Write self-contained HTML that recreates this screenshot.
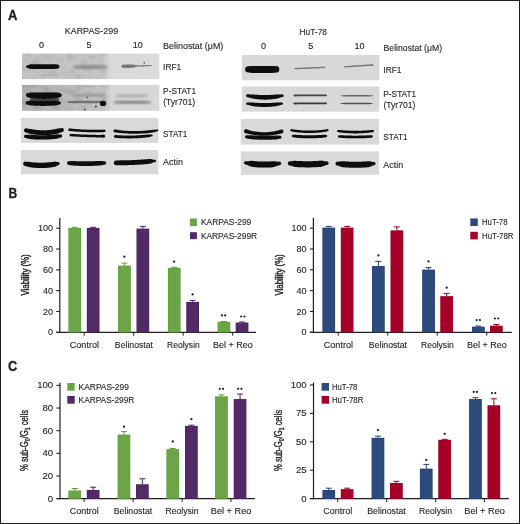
<!DOCTYPE html><html><head><meta charset="utf-8"><style>html,body{margin:0;padding:0;width:520px;height:524px;overflow:hidden;background:#fff}svg{display:block;font-family:"Liberation Sans", sans-serif;will-change:transform}</style></head><body>
<svg width="520" height="524" viewBox="0 0 520 524">
<defs><filter id="b0" x="-100%" y="-100%" width="300%" height="300%"><feGaussianBlur stdDeviation="0.35"/></filter><filter id="nz" x="0" y="0" width="100%" height="100%"><feTurbulence type="fractalNoise" baseFrequency="0.12 0.18" numOctaves="2" seed="7"/><feColorMatrix type="matrix" values="0 0 0 0 0  0 0 0 0 0  0 0 0 0 0  -2.2 0 0 0 1.25"/><feComposite in2="SourceGraphic" operator="in"/></filter><filter id="nz2" x="0" y="0" width="100%" height="100%"><feTurbulence type="fractalNoise" baseFrequency="0.12 0.18" numOctaves="2" seed="11"/><feColorMatrix type="matrix" values="0 0 0 0 0  0 0 0 0 0  0 0 0 0 0  -2.2 0 0 0 1.25"/><feComposite in2="SourceGraphic" operator="in"/></filter><filter id="b1" x="-20%" y="-50%" width="140%" height="200%"><feGaussianBlur stdDeviation="0.55"/></filter><filter id="b2" x="-20%" y="-50%" width="140%" height="200%"><feGaussianBlur stdDeviation="0.9"/></filter><filter id="b3" x="-50%" y="-50%" width="200%" height="200%"><feGaussianBlur stdDeviation="2.5"/></filter><linearGradient id="gL1" x1="0" x2="1" y1="0" y2="0"><stop offset="0" stop-color="#c2c2c2"/><stop offset="0.58" stop-color="#c6c6c6"/><stop offset="0.62" stop-color="#d2d2d2"/><stop offset="0.65" stop-color="#d9d9d9"/><stop offset="1" stop-color="#dbdbdb"/></linearGradient><linearGradient id="gL2" x1="0" x2="1" y1="0" y2="0"><stop offset="0" stop-color="#b0b0b0"/><stop offset="0.3" stop-color="#b9b9b9"/><stop offset="0.6" stop-color="#c3c3c3"/><stop offset="0.645" stop-color="#d5d5d5"/><stop offset="1" stop-color="#d8d8d8"/></linearGradient></defs>
<rect x="0" y="0" width="520" height="524" fill="#fff"/>
<text x="8.10" y="19.60" font-size="14" text-anchor="start" font-weight="bold" fill="#231f20" stroke="#231f20" stroke-width="0.35" textLength="9.40" lengthAdjust="spacingAndGlyphs">A</text>
<text x="64.80" y="34.20" font-size="9" text-anchor="start" font-weight="normal" fill="#231f20" stroke="#231f20" stroke-width="0.12" textLength="53.30" lengthAdjust="spacingAndGlyphs">KARPAS-299</text>
<text x="299.60" y="35.20" font-size="9" text-anchor="start" font-weight="normal" fill="#231f20" stroke="#231f20" stroke-width="0.12" textLength="27.30" lengthAdjust="spacingAndGlyphs">HuT-78</text>
<text x="41.50" y="47.90" font-size="9" text-anchor="middle" font-weight="normal" fill="#231f20" stroke="#231f20" stroke-width="0.12">0</text>
<text x="88.90" y="47.90" font-size="9" text-anchor="middle" font-weight="normal" fill="#231f20" stroke="#231f20" stroke-width="0.12">5</text>
<text x="137.70" y="47.90" font-size="9" text-anchor="middle" font-weight="normal" fill="#231f20" stroke="#231f20" stroke-width="0.12">10</text>
<text x="263.40" y="48.90" font-size="9" text-anchor="middle" font-weight="normal" fill="#231f20" stroke="#231f20" stroke-width="0.12">0</text>
<text x="310.70" y="48.90" font-size="9" text-anchor="middle" font-weight="normal" fill="#231f20" stroke="#231f20" stroke-width="0.12">5</text>
<text x="359.40" y="48.90" font-size="9" text-anchor="middle" font-weight="normal" fill="#231f20" stroke="#231f20" stroke-width="0.12">10</text>
<text x="163.10" y="49.40" font-size="9" text-anchor="start" font-weight="normal" fill="#231f20" stroke="#231f20" stroke-width="0.12" textLength="60.20" lengthAdjust="spacingAndGlyphs">Belinostat (μM)</text>
<text x="383.50" y="51.30" font-size="9" text-anchor="start" font-weight="normal" fill="#231f20" stroke="#231f20" stroke-width="0.12" textLength="58.60" lengthAdjust="spacingAndGlyphs">Belinostat (μM)</text>
<text x="163.10" y="70.00" font-size="9" text-anchor="start" font-weight="normal" fill="#231f20" stroke="#231f20" stroke-width="0.12" textLength="18.20" lengthAdjust="spacingAndGlyphs">IRF1</text>
<text x="163.10" y="94.20" font-size="9" text-anchor="start" font-weight="normal" fill="#231f20" stroke="#231f20" stroke-width="0.12" textLength="32.90" lengthAdjust="spacingAndGlyphs">P-STAT1</text>
<text x="163.20" y="105.10" font-size="9" text-anchor="start" font-weight="normal" fill="#231f20" stroke="#231f20" stroke-width="0.12" textLength="31.90" lengthAdjust="spacingAndGlyphs">(Tyr701)</text>
<text x="163.10" y="136.90" font-size="9" text-anchor="start" font-weight="normal" fill="#231f20" stroke="#231f20" stroke-width="0.12" textLength="24.20" lengthAdjust="spacingAndGlyphs">STAT1</text>
<text x="163.10" y="165.40" font-size="9" text-anchor="start" font-weight="normal" fill="#231f20" stroke="#231f20" stroke-width="0.12" textLength="19.80" lengthAdjust="spacingAndGlyphs">Actin</text>
<text x="383.30" y="72.60" font-size="9" text-anchor="start" font-weight="normal" fill="#231f20" stroke="#231f20" stroke-width="0.12" textLength="18.20" lengthAdjust="spacingAndGlyphs">IRF1</text>
<text x="383.30" y="96.80" font-size="9" text-anchor="start" font-weight="normal" fill="#231f20" stroke="#231f20" stroke-width="0.12" textLength="32.90" lengthAdjust="spacingAndGlyphs">P-STAT1</text>
<text x="383.40" y="107.70" font-size="9" text-anchor="start" font-weight="normal" fill="#231f20" stroke="#231f20" stroke-width="0.12" textLength="31.90" lengthAdjust="spacingAndGlyphs">(Tyr701)</text>
<text x="383.30" y="139.50" font-size="9" text-anchor="start" font-weight="normal" fill="#231f20" stroke="#231f20" stroke-width="0.12" textLength="24.20" lengthAdjust="spacingAndGlyphs">STAT1</text>
<text x="383.30" y="168.00" font-size="9" text-anchor="start" font-weight="normal" fill="#231f20" stroke="#231f20" stroke-width="0.12" textLength="19.80" lengthAdjust="spacingAndGlyphs">Actin</text>
<rect x="22.00" y="53.60" width="137.40" height="25.50" fill="url(#gL1)"/>
<rect x="22.00" y="84.90" width="137.40" height="25.90" fill="url(#gL2)"/>
<g opacity="0.10"><rect x="22" y="53.6" width="86" height="25.5" fill="#fff" filter="url(#nz)"/><rect x="22" y="84.9" width="88" height="25.9" fill="#fff" filter="url(#nz2)"/></g>
<rect x="21.00" y="117.80" width="137.40" height="25.10" fill="#d9d9d9"/>
<rect x="20.80" y="150.00" width="137.60" height="24.30" fill="#d9d9d9"/>
<path d="M27.30,65.30 L28.14,65.15 L28.97,64.81 L29.81,64.45 L30.64,64.22 L31.48,64.20 L32.32,64.20 L33.15,64.20 L33.99,64.20 L34.83,64.20 L35.66,64.20 L36.50,64.20 L37.33,64.20 L38.17,64.20 L39.01,64.20 L39.84,64.20 L40.68,64.20 L41.51,64.20 L42.35,64.20 L43.19,64.20 L44.02,64.20 L44.86,64.20 L45.69,64.20 L46.53,64.20 L47.37,64.20 L48.20,64.20 L49.04,64.20 L49.88,64.20 L50.71,64.20 L51.55,64.20 L52.38,64.20 L53.22,64.20 L54.06,64.20 L54.89,64.27 L55.73,64.37 L56.56,64.46 L57.40,64.50 L58.17,64.66 L58.81,65.12 L59.25,65.80 L59.40,66.60 L59.25,67.40 L58.81,68.08 L58.17,68.54 L57.40,68.70 L56.56,68.74 L55.73,68.83 L54.89,68.93 L54.06,69.00 L53.22,69.00 L52.38,69.00 L51.55,69.00 L50.71,69.00 L49.88,69.00 L49.04,69.00 L48.20,69.00 L47.37,69.00 L46.53,69.00 L45.69,69.00 L44.86,69.00 L44.02,69.00 L43.19,69.00 L42.35,69.00 L41.51,69.00 L40.68,69.00 L39.84,69.00 L39.01,69.00 L38.17,69.00 L37.33,69.00 L36.50,69.00 L35.66,69.00 L34.83,69.00 L33.99,69.00 L33.15,69.00 L32.32,69.00 L31.48,69.00 L30.64,68.98 L29.81,68.75 L28.97,68.39 L28.14,68.05 L27.30,67.90 L26.80,67.80 L26.38,67.52 L26.10,67.10 L26.00,66.60 L26.10,66.10 L26.38,65.68 L26.80,65.40Z" fill="#0a0a0a" filter="url(#b1)" opacity="1.0"/>
<path d="M74.20,65.80 L75.08,65.78 L75.97,65.71 L76.85,65.62 L77.73,65.51 L78.62,65.39 L79.50,65.28 L80.38,65.19 L81.27,65.12 L82.15,65.10 L83.03,65.10 L83.92,65.10 L84.80,65.10 L85.68,65.10 L86.57,65.10 L87.45,65.10 L88.33,65.10 L89.22,65.10 L90.10,65.10 L90.98,65.10 L91.87,65.10 L92.75,65.10 L93.63,65.10 L94.52,65.10 L95.40,65.10 L96.28,65.10 L97.17,65.10 L98.05,65.10 L98.93,65.12 L99.82,65.19 L100.70,65.28 L101.58,65.39 L102.47,65.51 L103.35,65.62 L104.23,65.71 L105.12,65.78 L106.00,65.80 L106.46,65.89 L106.85,66.15 L107.11,66.54 L107.20,67.00 L107.11,67.46 L106.85,67.85 L106.46,68.11 L106.00,68.20 L105.12,68.22 L104.23,68.29 L103.35,68.38 L102.47,68.49 L101.58,68.61 L100.70,68.72 L99.82,68.81 L98.93,68.88 L98.05,68.90 L97.17,68.90 L96.28,68.90 L95.40,68.90 L94.52,68.90 L93.63,68.90 L92.75,68.90 L91.87,68.90 L90.98,68.90 L90.10,68.90 L89.22,68.90 L88.33,68.90 L87.45,68.90 L86.57,68.90 L85.68,68.90 L84.80,68.90 L83.92,68.90 L83.03,68.90 L82.15,68.90 L81.27,68.88 L80.38,68.81 L79.50,68.72 L78.62,68.61 L77.73,68.49 L76.85,68.38 L75.97,68.29 L75.08,68.22 L74.20,68.20 L73.74,68.11 L73.35,67.85 L73.09,67.46 L73.00,67.00 L73.09,66.54 L73.35,66.15 L73.74,65.89Z" fill="#8e8e8e" filter="url(#b2)" opacity="1.0"/>
<path d="M122.90,64.80 L123.26,64.79 L123.63,64.78 L123.99,64.75 L124.36,64.72 L124.72,64.69 L125.08,64.66 L125.45,64.63 L125.81,64.60 L126.18,64.58 L126.54,64.56 L126.90,64.55 L127.27,64.54 L127.63,64.54 L127.99,64.53 L128.36,64.52 L128.72,64.52 L129.09,64.51 L129.45,64.50 L129.81,64.49 L130.18,64.48 L130.54,64.47 L130.91,64.46 L131.27,64.45 L131.63,64.44 L132.00,64.43 L132.36,64.43 L132.72,64.46 L133.09,64.52 L133.45,64.59 L133.82,64.67 L134.18,64.75 L134.54,64.84 L134.91,64.91 L135.27,64.96 L135.64,65.00 L136.00,65.00 L136.38,65.08 L136.71,65.29 L136.92,65.62 L137.00,66.00 L136.92,66.38 L136.71,66.71 L136.38,66.92 L136.00,67.00 L135.64,67.03 L135.27,67.09 L134.91,67.17 L134.54,67.27 L134.18,67.38 L133.82,67.49 L133.45,67.59 L133.09,67.68 L132.72,67.76 L132.36,67.81 L132.00,67.83 L131.63,67.84 L131.27,67.85 L130.91,67.86 L130.54,67.87 L130.18,67.88 L129.81,67.89 L129.45,67.90 L129.09,67.91 L128.72,67.92 L128.36,67.92 L127.99,67.93 L127.63,67.94 L127.27,67.94 L126.90,67.95 L126.54,67.95 L126.18,67.95 L125.81,67.93 L125.45,67.92 L125.08,67.89 L124.72,67.87 L124.36,67.85 L123.99,67.83 L123.63,67.81 L123.26,67.80 L122.90,67.80 L122.33,67.69 L121.84,67.36 L121.51,66.87 L121.40,66.30 L121.51,65.73 L121.84,65.24 L122.33,64.91Z" fill="#747474" filter="url(#b1)" opacity="1.0"/>
<path d="M130.80,65.20 L131.38,65.20 L131.95,65.22 L132.53,65.24 L133.11,65.27 L133.68,65.28 L134.26,65.29 L134.83,65.28 L135.41,65.27 L135.99,65.26 L136.56,65.25 L137.14,65.24 L137.72,65.23 L138.29,65.22 L138.87,65.20 L139.45,65.19 L140.02,65.18 L140.60,65.16 L141.18,65.15 L141.75,65.14 L142.33,65.12 L142.90,65.11 L143.48,65.09 L144.06,65.08 L144.63,65.06 L145.21,65.05 L145.79,65.03 L146.36,65.01 L146.94,65.00 L147.52,64.98 L148.09,64.96 L148.67,64.97 L149.24,64.99 L149.82,65.02 L150.40,65.04 L150.97,65.06 L151.55,65.05 L151.72,65.08 L151.87,65.18 L151.97,65.33 L152.00,65.50 L151.97,65.67 L151.87,65.82 L151.72,65.92 L151.55,65.95 L150.97,65.98 L150.40,66.03 L149.82,66.10 L149.24,66.16 L148.67,66.22 L148.09,66.26 L147.52,66.28 L146.94,66.30 L146.36,66.31 L145.79,66.33 L145.21,66.35 L144.63,66.36 L144.06,66.38 L143.48,66.39 L142.90,66.41 L142.33,66.42 L141.75,66.44 L141.18,66.45 L140.60,66.46 L140.02,66.48 L139.45,66.49 L138.87,66.50 L138.29,66.52 L137.72,66.53 L137.14,66.54 L136.56,66.55 L135.99,66.56 L135.41,66.57 L134.83,66.58 L134.26,66.60 L133.68,66.62 L133.11,66.66 L132.53,66.71 L131.95,66.75 L131.38,66.78 L130.80,66.80 L130.49,66.74 L130.23,66.57 L130.06,66.31 L130.00,66.00 L130.06,65.69 L130.23,65.43 L130.49,65.26Z" fill="#7e7e7e" filter="url(#b1)" opacity="1.0"/>
<circle cx="144.3" cy="62.9" r="0.9" fill="#777" filter="url(#b1)"/>
<rect x="30" y="98.5" width="29" height="2.3" fill="#404040" filter="url(#b1)"/>
<path d="M28.80,92.90 L29.64,92.67 L30.48,92.50 L31.32,92.50 L32.16,92.50 L32.99,92.50 L33.83,92.50 L34.67,92.50 L35.51,92.50 L36.35,92.50 L37.19,92.50 L38.03,92.50 L38.87,92.50 L39.71,92.50 L40.54,92.50 L41.38,92.50 L42.22,92.50 L43.06,92.50 L43.90,92.50 L44.74,92.50 L45.58,92.50 L46.42,92.50 L47.26,92.50 L48.09,92.50 L48.93,92.50 L49.77,92.50 L50.61,92.50 L51.45,92.50 L52.29,92.50 L53.13,92.50 L53.97,92.50 L54.81,92.50 L55.64,92.50 L56.48,92.50 L57.32,92.50 L58.16,92.71 L59.00,93.00 L60.07,93.17 L60.98,93.64 L61.59,94.36 L61.80,95.20 L61.59,96.04 L60.98,96.76 L60.07,97.23 L59.00,97.40 L58.16,97.80 L57.32,98.11 L56.48,98.21 L55.64,98.30 L54.81,98.38 L53.97,98.46 L53.13,98.53 L52.29,98.59 L51.45,98.65 L50.61,98.70 L49.77,98.75 L48.93,98.79 L48.09,98.82 L47.26,98.85 L46.42,98.87 L45.58,98.89 L44.74,98.90 L43.90,98.90 L43.06,98.90 L42.22,98.89 L41.38,98.87 L40.54,98.85 L39.71,98.82 L38.87,98.79 L38.03,98.75 L37.19,98.70 L36.35,98.65 L35.51,98.59 L34.67,98.53 L33.83,98.46 L32.99,98.38 L32.16,98.30 L31.32,98.21 L30.48,98.11 L29.64,97.84 L28.80,97.50 L27.73,97.32 L26.82,96.83 L26.21,96.08 L26.00,95.20 L26.21,94.32 L26.82,93.57 L27.73,93.08Z" fill="#0a0a0a" filter="url(#b1)" opacity="1.0"/>
<path d="M28.00,101.05 L28.85,100.90 L29.69,100.80 L30.54,100.80 L31.39,100.80 L32.24,100.80 L33.08,100.80 L33.93,100.80 L34.78,100.80 L35.62,100.80 L36.47,100.80 L37.32,100.80 L38.17,100.80 L39.01,100.80 L39.86,100.80 L40.71,100.80 L41.56,100.80 L42.40,100.80 L43.25,100.80 L44.10,100.80 L44.94,100.80 L45.79,100.80 L46.64,100.80 L47.49,100.80 L48.33,100.80 L49.18,100.80 L50.03,100.80 L50.88,100.80 L51.72,100.80 L52.57,100.80 L53.42,100.80 L54.26,100.80 L55.11,100.80 L55.96,100.80 L56.81,100.80 L57.65,100.95 L58.50,101.15 L59.42,101.29 L60.20,101.68 L60.72,102.26 L60.90,102.95 L60.72,103.64 L60.20,104.22 L59.42,104.61 L58.50,104.75 L57.65,105.04 L56.81,105.27 L55.96,105.34 L55.11,105.42 L54.26,105.48 L53.42,105.54 L52.57,105.60 L51.72,105.65 L50.88,105.70 L50.03,105.74 L49.18,105.78 L48.33,105.81 L47.49,105.84 L46.64,105.86 L45.79,105.88 L44.94,105.89 L44.10,105.90 L43.25,105.90 L42.40,105.90 L41.56,105.89 L40.71,105.88 L39.86,105.86 L39.01,105.84 L38.17,105.81 L37.32,105.78 L36.47,105.74 L35.62,105.70 L34.78,105.65 L33.93,105.60 L33.08,105.54 L32.24,105.48 L31.39,105.42 L30.54,105.34 L29.69,105.27 L28.85,105.08 L28.00,104.85 L27.08,104.71 L26.30,104.29 L25.78,103.68 L25.60,102.95 L25.78,102.22 L26.30,101.61 L27.08,101.19Z" fill="#0a0a0a" filter="url(#b1)" opacity="1.0"/>
<path d="M72.53,94.17 L73.39,94.15 L74.26,94.09 L75.13,94.01 L76.00,93.92 L76.87,93.85 L77.73,93.81 L78.60,93.80 L79.47,93.80 L80.34,93.80 L81.21,93.80 L82.07,93.80 L82.94,93.80 L83.81,93.80 L84.68,93.80 L85.55,93.80 L86.41,93.80 L87.28,93.80 L88.15,93.80 L89.02,93.80 L89.89,93.80 L90.75,93.80 L91.62,93.80 L92.49,93.80 L93.36,93.80 L94.23,93.80 L95.09,93.80 L95.96,93.80 L96.83,93.80 L97.70,93.80 L98.57,93.81 L99.43,93.85 L100.30,93.92 L101.17,94.01 L102.04,94.09 L102.91,94.15 L103.78,94.17 L104.21,94.26 L104.57,94.50 L104.81,94.87 L104.90,95.30 L104.81,95.73 L104.57,96.10 L104.21,96.34 L103.78,96.42 L102.91,96.45 L102.04,96.51 L101.17,96.59 L100.30,96.68 L99.43,96.75 L98.57,96.79 L97.70,96.80 L96.83,96.80 L95.96,96.80 L95.09,96.80 L94.23,96.80 L93.36,96.80 L92.49,96.80 L91.62,96.80 L90.75,96.80 L89.89,96.80 L89.02,96.80 L88.15,96.80 L87.28,96.80 L86.41,96.80 L85.55,96.80 L84.68,96.80 L83.81,96.80 L82.94,96.80 L82.07,96.80 L81.21,96.80 L80.34,96.80 L79.47,96.80 L78.60,96.80 L77.73,96.79 L76.87,96.75 L76.00,96.68 L75.13,96.59 L74.26,96.51 L73.39,96.45 L72.53,96.42 L72.09,96.34 L71.73,96.10 L71.49,95.73 L71.40,95.30 L71.49,94.87 L71.73,94.50 L72.09,94.26Z" fill="#9a9a9a" filter="url(#b2)" opacity="1.0"/>
<path d="M68.50,101.00 L69.48,100.98 L70.47,100.94 L71.45,100.88 L72.43,100.83 L73.42,100.80 L74.40,100.80 L75.38,100.80 L76.37,100.80 L77.35,100.80 L78.33,100.80 L79.32,100.80 L80.30,100.80 L81.28,100.80 L82.27,100.80 L83.25,100.80 L84.23,100.80 L85.22,100.80 L86.20,100.80 L87.18,100.80 L88.17,100.80 L89.15,100.80 L90.13,100.80 L91.12,100.80 L92.10,100.80 L93.08,100.80 L94.07,100.80 L95.05,100.80 L96.03,100.80 L97.02,100.80 L98.00,100.80 L98.98,100.80 L99.97,100.82 L100.95,100.84 L101.93,100.87 L102.92,100.89 L103.90,100.90 L104.32,100.98 L104.68,101.22 L104.92,101.58 L105.00,102.00 L104.92,102.42 L104.68,102.78 L104.32,103.02 L103.90,103.10 L102.92,103.11 L101.93,103.13 L100.95,103.16 L99.97,103.18 L98.98,103.20 L98.00,103.20 L97.02,103.20 L96.03,103.20 L95.05,103.20 L94.07,103.20 L93.08,103.20 L92.10,103.20 L91.12,103.20 L90.13,103.20 L89.15,103.20 L88.17,103.20 L87.18,103.20 L86.20,103.20 L85.22,103.20 L84.23,103.20 L83.25,103.20 L82.27,103.20 L81.28,103.20 L80.30,103.20 L79.32,103.20 L78.33,103.20 L77.35,103.20 L76.37,103.20 L75.38,103.20 L74.40,103.20 L73.42,103.20 L72.43,103.17 L71.45,103.12 L70.47,103.06 L69.48,103.02 L68.50,103.00 L68.12,102.92 L67.79,102.71 L67.58,102.38 L67.50,102.00 L67.58,101.62 L67.79,101.29 L68.12,101.08Z" fill="#727272" filter="url(#b1)" opacity="1.0"/>
<ellipse cx="103.1" cy="103.4" rx="3.1" ry="2.6" fill="#080808" filter="url(#b1)"/>
<circle cx="87.3" cy="97.5" r="0.7" fill="#333" filter="url(#b1)"/>
<circle cx="95.8" cy="106.5" r="0.9" fill="#333" filter="url(#b1)"/>
<circle cx="85.0" cy="109.6" r="0.9" fill="#333" filter="url(#b1)"/>
<path d="M116.67,94.73 L117.50,94.70 L118.33,94.65 L119.15,94.58 L119.98,94.51 L120.81,94.44 L121.63,94.41 L122.46,94.40 L123.29,94.40 L124.11,94.40 L124.94,94.40 L125.77,94.40 L126.59,94.40 L127.42,94.40 L128.24,94.40 L129.07,94.40 L129.90,94.40 L130.72,94.40 L131.55,94.40 L132.38,94.40 L133.20,94.40 L134.03,94.40 L134.86,94.40 L135.68,94.40 L136.51,94.40 L137.33,94.40 L138.16,94.40 L138.99,94.40 L139.81,94.40 L140.64,94.40 L141.47,94.41 L142.29,94.44 L143.12,94.51 L143.95,94.58 L144.77,94.65 L145.60,94.70 L146.43,94.73 L146.80,94.80 L147.11,95.01 L147.33,95.33 L147.40,95.70 L147.33,96.07 L147.11,96.39 L146.80,96.60 L146.43,96.67 L145.60,96.70 L144.77,96.75 L143.95,96.82 L143.12,96.89 L142.29,96.96 L141.47,96.99 L140.64,97.00 L139.81,97.00 L138.99,97.00 L138.16,97.00 L137.33,97.00 L136.51,97.00 L135.68,97.00 L134.86,97.00 L134.03,97.00 L133.20,97.00 L132.38,97.00 L131.55,97.00 L130.72,97.00 L129.90,97.00 L129.07,97.00 L128.24,97.00 L127.42,97.00 L126.59,97.00 L125.77,97.00 L124.94,97.00 L124.11,97.00 L123.29,97.00 L122.46,97.00 L121.63,96.99 L120.81,96.96 L119.98,96.89 L119.15,96.82 L118.33,96.75 L117.50,96.70 L116.67,96.67 L116.30,96.60 L115.99,96.39 L115.77,96.07 L115.70,95.70 L115.77,95.33 L115.99,95.01 L116.30,94.80Z" fill="#a8a8a8" filter="url(#b2)" opacity="1.0"/>
<path d="M114.80,101.40 L115.78,101.38 L116.76,101.33 L117.74,101.27 L118.72,101.20 L119.70,101.14 L120.68,101.10 L121.66,101.10 L122.64,101.10 L123.62,101.10 L124.61,101.10 L125.59,101.10 L126.57,101.10 L127.55,101.10 L128.53,101.10 L129.51,101.10 L130.49,101.10 L131.47,101.10 L132.45,101.10 L133.43,101.10 L134.41,101.10 L135.39,101.10 L136.37,101.10 L137.35,101.10 L138.33,101.10 L139.31,101.10 L140.29,101.10 L141.28,101.10 L142.26,101.10 L143.24,101.10 L144.22,101.10 L145.20,101.14 L146.18,101.20 L147.16,101.27 L148.14,101.33 L149.12,101.38 L150.10,101.40 L150.44,101.47 L150.74,101.66 L150.93,101.96 L151.00,102.30 L150.93,102.64 L150.74,102.94 L150.44,103.13 L150.10,103.20 L149.12,103.22 L148.14,103.27 L147.16,103.33 L146.18,103.40 L145.20,103.46 L144.22,103.50 L143.24,103.50 L142.26,103.50 L141.28,103.50 L140.29,103.50 L139.31,103.50 L138.33,103.50 L137.35,103.50 L136.37,103.50 L135.39,103.50 L134.41,103.50 L133.43,103.50 L132.45,103.50 L131.47,103.50 L130.49,103.50 L129.51,103.50 L128.53,103.50 L127.55,103.50 L126.57,103.50 L125.59,103.50 L124.61,103.50 L123.62,103.50 L122.64,103.50 L121.66,103.50 L120.68,103.50 L119.70,103.46 L118.72,103.40 L117.74,103.33 L116.76,103.27 L115.78,103.22 L114.80,103.20 L114.46,103.13 L114.16,102.94 L113.97,102.64 L113.90,102.30 L113.97,101.96 L114.16,101.66 L114.46,101.47Z" fill="#777777" filter="url(#b2)" opacity="1.0"/>
<path d="M26.00,128.30 L27.00,128.51 L27.99,128.65 L28.99,128.76 L29.99,128.90 L30.99,129.09 L31.98,129.27 L32.98,129.44 L33.98,129.59 L34.98,129.73 L35.97,129.85 L36.97,129.95 L37.97,130.04 L38.96,130.11 L39.96,130.17 L40.96,130.21 L41.96,130.24 L42.95,130.25 L43.95,130.25 L44.95,130.23 L45.94,130.20 L46.94,130.15 L47.94,130.08 L48.94,130.00 L49.93,129.91 L50.93,129.79 L51.93,129.67 L52.92,129.53 L53.92,129.37 L54.92,129.19 L55.92,129.01 L56.91,128.80 L57.91,128.59 L58.91,128.43 L59.91,128.29 L60.90,128.13 L61.90,127.90 L62.67,128.06 L63.31,128.52 L63.75,129.20 L63.90,130.00 L63.75,130.80 L63.31,131.48 L62.67,131.94 L61.90,132.10 L60.90,132.43 L59.91,132.80 L58.91,133.17 L57.91,133.48 L56.91,133.70 L55.92,133.91 L54.92,134.09 L53.92,134.27 L52.92,134.42 L51.93,134.57 L50.93,134.69 L49.93,134.81 L48.94,134.90 L47.94,134.98 L46.94,135.05 L45.94,135.10 L44.95,135.13 L43.95,135.15 L42.95,135.15 L41.96,135.14 L40.96,135.11 L39.96,135.07 L38.96,135.01 L37.97,134.94 L36.97,134.85 L35.97,134.75 L34.98,134.62 L33.98,134.49 L32.98,134.34 L31.98,134.17 L30.99,133.99 L29.99,133.79 L28.99,133.50 L27.99,133.16 L27.00,132.81 L26.00,132.50 L25.23,132.34 L24.59,131.88 L24.15,131.20 L24.00,130.40 L24.15,129.60 L24.59,128.92 L25.23,128.46Z" fill="#0a0a0a" filter="url(#b1)" opacity="1.0"/>
<path d="M25.70,134.70 L26.67,134.75 L27.64,134.71 L28.61,134.64 L29.58,134.64 L30.55,134.72 L31.52,134.80 L32.49,134.87 L33.46,134.94 L34.42,135.00 L35.39,135.05 L36.36,135.10 L37.33,135.13 L38.30,135.16 L39.27,135.19 L40.24,135.20 L41.21,135.21 L42.18,135.21 L43.15,135.20 L44.12,135.19 L45.09,135.16 L46.06,135.13 L47.03,135.10 L48.00,135.05 L48.97,135.00 L49.94,134.94 L50.91,134.87 L51.88,134.80 L52.84,134.72 L53.81,134.63 L54.78,134.53 L55.75,134.43 L56.72,134.33 L57.69,134.33 L58.66,134.41 L59.63,134.46 L60.60,134.40 L61.21,134.52 L61.73,134.87 L62.08,135.39 L62.20,136.00 L62.08,136.61 L61.73,137.13 L61.21,137.48 L60.60,137.60 L59.63,137.82 L58.66,138.14 L57.69,138.47 L56.72,138.71 L55.75,138.83 L54.78,138.93 L53.81,139.03 L52.84,139.12 L51.88,139.20 L50.91,139.27 L49.94,139.34 L48.97,139.40 L48.00,139.45 L47.03,139.50 L46.06,139.53 L45.09,139.56 L44.12,139.59 L43.15,139.60 L42.18,139.61 L41.21,139.61 L40.24,139.60 L39.27,139.59 L38.30,139.56 L37.33,139.53 L36.36,139.50 L35.39,139.45 L34.42,139.40 L33.46,139.34 L32.49,139.27 L31.52,139.20 L30.55,139.12 L29.58,139.02 L28.61,138.82 L27.64,138.55 L26.67,138.29 L25.70,138.10 L25.05,137.97 L24.50,137.60 L24.13,137.05 L24.00,136.40 L24.13,135.75 L24.50,135.20 L25.05,134.83Z" fill="#0a0a0a" filter="url(#b1)" opacity="1.0"/>
<path d="M69.50,128.40 L70.47,128.51 L71.45,128.62 L72.42,128.73 L73.39,128.82 L74.37,128.90 L75.34,128.98 L76.32,129.06 L77.29,129.13 L78.26,129.20 L79.24,129.26 L80.21,129.33 L81.18,129.38 L82.16,129.44 L83.13,129.49 L84.10,129.53 L85.08,129.58 L86.05,129.61 L87.03,129.65 L88.00,129.68 L88.97,129.71 L89.95,129.73 L90.92,129.75 L91.89,129.77 L92.87,129.78 L93.84,129.79 L94.81,129.80 L95.79,129.80 L96.76,129.80 L97.73,129.79 L98.71,129.78 L99.68,129.77 L100.66,129.75 L101.63,129.74 L102.60,129.75 L103.58,129.76 L104.55,129.75 L104.99,129.84 L105.36,130.09 L105.61,130.46 L105.70,130.90 L105.61,131.34 L105.36,131.71 L104.99,131.96 L104.55,132.05 L103.58,132.10 L102.60,132.17 L101.63,132.23 L100.66,132.25 L99.68,132.27 L98.71,132.28 L97.73,132.29 L96.76,132.30 L95.79,132.30 L94.81,132.30 L93.84,132.29 L92.87,132.28 L91.89,132.27 L90.92,132.25 L89.95,132.23 L88.97,132.21 L88.00,132.18 L87.03,132.15 L86.05,132.11 L85.08,132.08 L84.10,132.03 L83.13,131.99 L82.16,131.94 L81.18,131.88 L80.21,131.83 L79.24,131.76 L78.26,131.70 L77.29,131.63 L76.32,131.56 L75.34,131.48 L74.37,131.40 L73.39,131.32 L72.42,131.24 L71.45,131.16 L70.47,131.09 L69.50,131.00 L69.00,130.90 L68.58,130.62 L68.30,130.20 L68.20,129.70 L68.30,129.20 L68.58,128.78 L69.00,128.50Z" fill="#101010" filter="url(#b1)" opacity="1.0"/>
<path d="M70.65,133.95 L71.57,133.99 L72.48,134.01 L73.40,134.03 L74.31,134.07 L75.23,134.12 L76.14,134.17 L77.06,134.22 L77.97,134.27 L78.89,134.31 L79.80,134.36 L80.72,134.40 L81.63,134.44 L82.55,134.48 L83.46,134.52 L84.38,134.55 L85.29,134.59 L86.21,134.62 L87.12,134.65 L88.04,134.68 L88.96,134.71 L89.87,134.73 L90.79,134.76 L91.70,134.78 L92.62,134.81 L93.53,134.83 L94.45,134.85 L95.36,134.86 L96.28,134.88 L97.19,134.89 L98.11,134.91 L99.02,134.92 L99.94,134.93 L100.85,134.91 L101.77,134.80 L102.68,134.66 L103.60,134.60 L104.21,134.72 L104.73,135.07 L105.08,135.59 L105.20,136.20 L105.08,136.81 L104.73,137.33 L104.21,137.68 L103.60,137.80 L102.68,137.73 L101.77,137.59 L100.85,137.46 L99.94,137.43 L99.02,137.42 L98.11,137.41 L97.19,137.39 L96.28,137.38 L95.36,137.36 L94.45,137.35 L93.53,137.33 L92.62,137.31 L91.70,137.28 L90.79,137.26 L89.87,137.23 L88.96,137.21 L88.04,137.18 L87.12,137.15 L86.21,137.12 L85.29,137.09 L84.38,137.05 L83.46,137.02 L82.55,136.98 L81.63,136.94 L80.72,136.90 L79.80,136.86 L78.89,136.81 L77.97,136.77 L77.06,136.72 L76.14,136.67 L75.23,136.62 L74.31,136.57 L73.40,136.51 L72.48,136.42 L71.57,136.33 L70.65,136.25 L70.21,136.16 L69.84,135.91 L69.59,135.54 L69.50,135.10 L69.59,134.66 L69.84,134.29 L70.21,134.04Z" fill="#101010" filter="url(#b1)" opacity="1.0"/>
<path d="M115.00,129.40 L116.18,129.60 L117.36,129.83 L118.54,130.03 L119.72,130.19 L120.90,130.32 L122.08,130.44 L123.26,130.55 L124.44,130.65 L125.62,130.74 L126.81,130.82 L127.99,130.88 L129.17,130.94 L130.35,130.98 L131.53,131.02 L132.71,131.04 L133.89,131.06 L135.07,131.06 L136.25,131.05 L137.43,131.03 L138.61,131.00 L139.79,130.96 L140.97,130.91 L142.15,130.85 L143.33,130.77 L144.51,130.69 L145.69,130.59 L146.88,130.49 L148.06,130.37 L149.24,130.24 L150.42,130.11 L151.60,129.96 L152.78,129.80 L153.96,129.66 L155.14,129.63 L156.32,129.62 L157.50,129.50 L157.84,129.57 L158.14,129.76 L158.33,130.06 L158.40,130.40 L158.33,130.74 L158.14,131.04 L157.84,131.23 L157.50,131.30 L156.32,131.59 L155.14,131.96 L153.96,132.29 L152.78,132.50 L151.60,132.66 L150.42,132.81 L149.24,132.94 L148.06,133.07 L146.88,133.19 L145.69,133.29 L144.51,133.39 L143.33,133.47 L142.15,133.55 L140.97,133.61 L139.79,133.66 L138.61,133.70 L137.43,133.73 L136.25,133.75 L135.07,133.76 L133.89,133.76 L132.71,133.74 L131.53,133.72 L130.35,133.68 L129.17,133.64 L127.99,133.58 L126.81,133.52 L125.62,133.44 L124.44,133.35 L123.26,133.25 L122.08,133.14 L120.90,133.02 L119.72,132.89 L118.54,132.75 L117.36,132.65 L116.18,132.55 L115.00,132.40 L114.43,132.29 L113.94,131.96 L113.61,131.47 L113.50,130.90 L113.61,130.33 L113.94,129.84 L114.43,129.51Z" fill="#101010" filter="url(#b1)" opacity="1.0"/>
<path d="M115.40,135.00 L116.41,135.07 L117.42,135.13 L118.43,135.18 L119.43,135.23 L120.44,135.29 L121.45,135.34 L122.46,135.38 L123.47,135.42 L124.47,135.45 L125.48,135.47 L126.49,135.49 L127.50,135.51 L128.51,135.51 L129.52,135.51 L130.53,135.51 L131.53,135.49 L132.54,135.47 L133.55,135.45 L134.56,135.42 L135.57,135.38 L136.57,135.34 L137.58,135.29 L138.59,135.23 L139.60,135.17 L140.61,135.10 L141.62,135.03 L142.62,134.95 L143.63,134.86 L144.64,134.77 L145.65,134.67 L146.66,134.57 L147.67,134.46 L148.67,134.37 L149.68,134.40 L150.69,134.45 L151.70,134.40 L152.08,134.48 L152.41,134.69 L152.62,135.02 L152.70,135.40 L152.62,135.78 L152.41,136.11 L152.08,136.32 L151.70,136.40 L150.69,136.62 L149.68,136.93 L148.67,137.21 L147.67,137.36 L146.66,137.47 L145.65,137.57 L144.64,137.67 L143.63,137.76 L142.62,137.85 L141.62,137.93 L140.61,138.00 L139.60,138.07 L138.59,138.13 L137.58,138.19 L136.57,138.24 L135.57,138.28 L134.56,138.32 L133.55,138.35 L132.54,138.37 L131.53,138.39 L130.53,138.41 L129.52,138.41 L128.51,138.41 L127.50,138.41 L126.49,138.39 L125.48,138.37 L124.47,138.35 L123.47,138.32 L122.46,138.28 L121.45,138.24 L120.44,138.19 L119.43,138.13 L118.43,138.07 L117.42,137.98 L116.41,137.89 L115.40,137.80 L114.86,137.69 L114.41,137.39 L114.11,136.94 L114.00,136.40 L114.11,135.86 L114.41,135.41 L114.86,135.11Z" fill="#101010" filter="url(#b1)" opacity="1.0"/>
<path d="M25.20,161.60 L26.11,161.67 L27.02,161.67 L27.93,161.74 L28.83,161.87 L29.74,161.99 L30.65,162.10 L31.56,162.20 L32.47,162.29 L33.38,162.38 L34.28,162.45 L35.19,162.51 L36.10,162.57 L37.01,162.61 L37.92,162.65 L38.83,162.67 L39.73,162.69 L40.64,162.70 L41.55,162.70 L42.46,162.69 L43.37,162.67 L44.28,162.64 L45.18,162.60 L46.09,162.56 L47.00,162.50 L47.91,162.43 L48.82,162.36 L49.73,162.28 L50.63,162.18 L51.54,162.08 L52.45,161.97 L53.36,161.85 L54.27,161.71 L55.17,161.58 L56.08,161.63 L56.99,161.92 L57.90,162.00 L58.59,162.12 L59.17,162.47 L59.56,162.99 L59.70,163.60 L59.56,164.21 L59.17,164.73 L58.59,165.08 L57.90,165.20 L56.99,165.66 L56.08,166.31 L55.17,166.70 L54.27,166.87 L53.36,167.04 L52.45,167.19 L51.54,167.33 L50.63,167.46 L49.73,167.58 L48.82,167.68 L47.91,167.77 L47.00,167.86 L46.09,167.93 L45.18,167.98 L44.28,168.03 L43.37,168.07 L42.46,168.09 L41.55,168.10 L40.64,168.10 L39.73,168.09 L38.83,168.06 L37.92,168.03 L37.01,167.98 L36.10,167.92 L35.19,167.85 L34.28,167.77 L33.38,167.68 L32.47,167.57 L31.56,167.45 L30.65,167.32 L29.74,167.18 L28.83,167.03 L27.93,166.86 L27.02,166.62 L26.11,166.28 L25.20,166.00 L24.43,165.83 L23.79,165.36 L23.35,164.64 L23.20,163.80 L23.35,162.96 L23.79,162.24 L24.43,161.77Z" fill="#0a0a0a" filter="url(#b1)" opacity="1.0"/>
<path d="M69.00,161.20 L69.98,161.17 L70.96,161.09 L71.93,161.07 L72.91,161.09 L73.89,161.11 L74.87,161.12 L75.84,161.14 L76.82,161.15 L77.80,161.16 L78.78,161.17 L79.76,161.18 L80.73,161.19 L81.71,161.19 L82.69,161.20 L83.67,161.20 L84.64,161.20 L85.62,161.20 L86.60,161.20 L87.58,161.20 L88.56,161.19 L89.53,161.18 L90.51,161.18 L91.49,161.17 L92.47,161.16 L93.44,161.14 L94.42,161.13 L95.40,161.11 L96.38,161.10 L97.36,161.08 L98.33,161.06 L99.31,161.03 L100.29,161.01 L101.27,160.98 L102.24,161.05 L103.22,161.22 L104.20,161.30 L104.97,161.43 L105.61,161.80 L106.05,162.35 L106.20,163.00 L106.05,163.65 L105.61,164.20 L104.97,164.57 L104.20,164.70 L103.22,164.91 L102.24,165.19 L101.27,165.37 L100.29,165.45 L99.31,165.52 L98.33,165.59 L97.36,165.65 L96.38,165.71 L95.40,165.76 L94.42,165.81 L93.44,165.85 L92.47,165.89 L91.49,165.92 L90.51,165.95 L89.53,165.97 L88.56,165.98 L87.58,165.99 L86.60,166.00 L85.62,166.00 L84.64,166.00 L83.67,165.98 L82.69,165.97 L81.71,165.95 L80.73,165.92 L79.76,165.89 L78.78,165.85 L77.80,165.81 L76.82,165.77 L75.84,165.71 L74.87,165.66 L73.89,165.59 L72.91,165.52 L71.93,165.45 L70.96,165.33 L69.98,165.14 L69.00,165.00 L68.23,164.86 L67.59,164.44 L67.15,163.83 L67.00,163.10 L67.15,162.37 L67.59,161.76 L68.23,161.34Z" fill="#0a0a0a" filter="url(#b1)" opacity="1.0"/>
<path d="M115.80,160.45 L116.89,160.45 L117.97,160.43 L119.06,160.40 L120.14,160.37 L121.23,160.35 L122.32,160.34 L123.40,160.33 L124.49,160.31 L125.58,160.29 L126.66,160.26 L127.75,160.24 L128.83,160.21 L129.92,160.17 L131.01,160.13 L132.09,160.09 L133.18,160.05 L134.26,160.00 L135.35,159.95 L136.44,159.90 L137.52,159.84 L138.61,159.78 L139.69,159.71 L140.78,159.64 L141.87,159.57 L142.95,159.50 L144.04,159.42 L145.12,159.34 L146.21,159.25 L147.30,159.16 L148.38,159.07 L149.47,159.00 L150.56,159.09 L151.64,159.30 L152.73,159.53 L153.81,159.70 L154.90,159.70 L155.36,159.79 L155.75,160.05 L156.01,160.44 L156.10,160.90 L156.01,161.36 L155.75,161.75 L155.36,162.01 L154.90,162.10 L153.81,162.32 L152.73,162.71 L151.64,163.16 L150.56,163.57 L149.47,163.86 L148.38,163.97 L147.30,164.06 L146.21,164.15 L145.12,164.24 L144.04,164.32 L142.95,164.40 L141.87,164.47 L140.78,164.54 L139.69,164.61 L138.61,164.68 L137.52,164.74 L136.44,164.80 L135.35,164.85 L134.26,164.90 L133.18,164.95 L132.09,164.99 L131.01,165.03 L129.92,165.07 L128.83,165.11 L127.75,165.14 L126.66,165.16 L125.58,165.19 L124.49,165.21 L123.40,165.23 L122.32,165.24 L121.23,165.25 L120.14,165.24 L119.06,165.22 L117.97,165.19 L116.89,165.17 L115.80,165.15 L115.03,164.97 L114.39,164.46 L113.95,163.70 L113.80,162.80 L113.95,161.90 L114.39,161.14 L115.03,160.63Z" fill="#0a0a0a" filter="url(#b1)" opacity="1.0"/>
<rect x="242.00" y="55.00" width="137.40" height="25.30" fill="#d8d8d8"/>
<rect x="242.00" y="86.40" width="137.40" height="25.30" fill="#d8d8d8"/>
<rect x="240.80" y="118.90" width="138.20" height="25.60" fill="#d9d9d9"/>
<rect x="240.80" y="151.40" width="138.20" height="23.40" fill="#d9d9d9"/>
<path d="M247.10,66.50 L247.94,66.46 L248.78,66.36 L249.62,66.23 L250.46,66.10 L251.29,65.98 L252.13,65.91 L252.97,65.90 L253.81,65.90 L254.65,65.90 L255.49,65.90 L256.33,65.90 L257.17,65.90 L258.01,65.90 L258.84,65.90 L259.68,65.90 L260.52,65.90 L261.36,65.90 L262.20,65.90 L263.04,65.90 L263.88,65.90 L264.72,65.90 L265.56,65.90 L266.39,65.90 L267.23,65.90 L268.07,65.90 L268.91,65.90 L269.75,65.90 L270.59,65.90 L271.43,65.90 L272.27,65.91 L273.11,65.95 L273.94,66.03 L274.78,66.12 L275.62,66.21 L276.46,66.27 L277.30,66.30 L278.07,66.54 L278.71,67.21 L279.15,68.21 L279.30,69.40 L279.15,70.59 L278.71,71.59 L278.07,72.26 L277.30,72.50 L276.46,72.53 L275.62,72.59 L274.78,72.68 L273.94,72.77 L273.11,72.85 L272.27,72.89 L271.43,72.90 L270.59,72.90 L269.75,72.90 L268.91,72.90 L268.07,72.90 L267.23,72.90 L266.39,72.90 L265.56,72.90 L264.72,72.90 L263.88,72.90 L263.04,72.90 L262.20,72.90 L261.36,72.90 L260.52,72.90 L259.68,72.90 L258.84,72.90 L258.01,72.90 L257.17,72.90 L256.33,72.90 L255.49,72.90 L254.65,72.90 L253.81,72.90 L252.97,72.90 L252.13,72.89 L251.29,72.82 L250.46,72.70 L249.62,72.57 L248.78,72.44 L247.94,72.34 L247.10,72.30 L246.33,72.08 L245.69,71.45 L245.25,70.51 L245.10,69.40 L245.25,68.29 L245.69,67.35 L246.33,66.72Z" fill="#080808" filter="url(#b1)" opacity="1.0"/>
<path d="M294.95,67.95 L295.78,67.91 L296.60,67.86 L297.43,67.81 L298.26,67.75 L299.08,67.70 L299.91,67.65 L300.73,67.62 L301.56,67.58 L302.39,67.55 L303.21,67.52 L304.04,67.48 L304.87,67.45 L305.69,67.42 L306.52,67.38 L307.35,67.35 L308.17,67.32 L309.00,67.28 L309.82,67.25 L310.65,67.22 L311.48,67.18 L312.30,67.15 L313.13,67.12 L313.96,67.08 L314.78,67.05 L315.61,67.02 L316.44,66.98 L317.26,66.95 L318.09,66.92 L318.92,66.88 L319.74,66.85 L320.57,66.82 L321.39,66.80 L322.22,66.78 L323.05,66.76 L323.87,66.73 L324.70,66.70 L324.97,66.75 L325.19,66.91 L325.35,67.13 L325.40,67.40 L325.35,67.67 L325.19,67.89 L324.97,68.05 L324.70,68.10 L323.87,68.14 L323.05,68.18 L322.22,68.22 L321.39,68.27 L320.57,68.31 L319.74,68.35 L318.92,68.38 L318.09,68.42 L317.26,68.45 L316.44,68.48 L315.61,68.52 L314.78,68.55 L313.96,68.58 L313.13,68.62 L312.30,68.65 L311.48,68.68 L310.65,68.72 L309.82,68.75 L309.00,68.78 L308.17,68.82 L307.35,68.85 L306.52,68.88 L305.69,68.92 L304.87,68.95 L304.04,68.98 L303.21,69.02 L302.39,69.05 L301.56,69.08 L300.73,69.12 L299.91,69.15 L299.08,69.17 L298.26,69.18 L297.43,69.19 L296.60,69.21 L295.78,69.22 L294.95,69.25 L294.70,69.20 L294.49,69.06 L294.35,68.85 L294.30,68.60 L294.35,68.35 L294.49,68.14 L294.70,68.00Z" fill="#7a7a7a" filter="url(#b1)" opacity="1.0"/>
<path d="M344.75,66.15 L345.52,66.09 L346.29,66.03 L347.06,65.96 L347.83,65.88 L348.60,65.81 L349.38,65.75 L350.15,65.70 L350.92,65.65 L351.69,65.60 L352.46,65.55 L353.23,65.50 L354.00,65.45 L354.77,65.40 L355.54,65.35 L356.31,65.30 L357.08,65.25 L357.85,65.20 L358.62,65.15 L359.40,65.10 L360.17,65.05 L360.94,65.00 L361.71,64.95 L362.48,64.90 L363.25,64.85 L364.02,64.80 L364.79,64.75 L365.56,64.70 L366.33,64.65 L367.10,64.60 L367.88,64.55 L368.65,64.48 L369.42,64.40 L370.19,64.32 L370.96,64.23 L371.73,64.16 L372.50,64.10 L372.84,64.17 L373.14,64.36 L373.33,64.66 L373.40,65.00 L373.33,65.34 L373.14,65.64 L372.84,65.83 L372.50,65.90 L371.73,65.94 L370.96,65.97 L370.19,65.98 L369.42,66.00 L368.65,66.02 L367.88,66.05 L367.10,66.10 L366.33,66.15 L365.56,66.20 L364.79,66.25 L364.02,66.30 L363.25,66.35 L362.48,66.40 L361.71,66.45 L360.94,66.50 L360.17,66.55 L359.40,66.60 L358.62,66.65 L357.85,66.70 L357.08,66.75 L356.31,66.80 L355.54,66.85 L354.77,66.90 L354.00,66.95 L353.23,67.00 L352.46,67.05 L351.69,67.10 L350.92,67.15 L350.15,67.20 L349.38,67.25 L348.60,67.29 L347.83,67.32 L347.06,67.34 L346.29,67.37 L345.52,67.41 L344.75,67.45 L344.50,67.40 L344.29,67.26 L344.15,67.05 L344.10,66.80 L344.15,66.55 L344.29,66.34 L344.50,66.20Z" fill="#7a7a7a" filter="url(#b1)" opacity="1.0"/>
<path d="M247.90,94.25 L248.84,94.35 L249.79,94.41 L250.73,94.44 L251.68,94.45 L252.62,94.48 L253.57,94.52 L254.51,94.60 L255.46,94.68 L256.40,94.75 L257.34,94.81 L258.29,94.87 L259.23,94.92 L260.18,94.96 L261.12,94.99 L262.07,95.02 L263.01,95.04 L263.96,95.05 L264.90,95.05 L265.84,95.05 L266.79,95.04 L267.73,95.02 L268.68,94.99 L269.62,94.96 L270.57,94.92 L271.51,94.87 L272.46,94.81 L273.40,94.75 L274.34,94.68 L275.29,94.60 L276.23,94.52 L277.18,94.49 L278.12,94.49 L279.07,94.49 L280.01,94.49 L280.96,94.45 L281.90,94.35 L282.59,94.45 L283.17,94.75 L283.56,95.18 L283.70,95.70 L283.56,96.22 L283.17,96.65 L282.59,96.95 L281.90,97.05 L280.96,97.31 L280.01,97.60 L279.07,97.91 L278.12,98.22 L277.18,98.49 L276.23,98.71 L275.29,98.87 L274.34,99.00 L273.40,99.12 L272.46,99.24 L271.51,99.33 L270.57,99.42 L269.62,99.49 L268.68,99.55 L267.73,99.59 L266.79,99.62 L265.84,99.64 L264.90,99.65 L263.96,99.64 L263.01,99.62 L262.07,99.59 L261.12,99.55 L260.18,99.49 L259.23,99.42 L258.29,99.33 L257.34,99.24 L256.40,99.12 L255.46,99.00 L254.51,98.87 L253.57,98.71 L252.62,98.50 L251.68,98.25 L250.73,97.97 L249.79,97.68 L248.84,97.40 L247.90,97.15 L247.17,97.04 L246.56,96.73 L246.14,96.25 L246.00,95.70 L246.14,95.15 L246.56,94.67 L247.17,94.36Z" fill="#080808" filter="url(#b1)" opacity="1.0"/>
<path d="M247.60,102.40 L248.54,102.49 L249.48,102.53 L250.42,102.55 L251.37,102.56 L252.31,102.57 L253.25,102.61 L254.19,102.68 L255.13,102.74 L256.07,102.80 L257.02,102.85 L257.96,102.90 L258.90,102.94 L259.84,102.97 L260.78,103.00 L261.73,103.02 L262.67,103.04 L263.61,103.05 L264.55,103.05 L265.49,103.05 L266.43,103.04 L267.38,103.02 L268.32,103.00 L269.26,102.97 L270.20,102.94 L271.14,102.90 L272.08,102.85 L273.02,102.80 L273.97,102.74 L274.91,102.68 L275.85,102.61 L276.79,102.59 L277.73,102.59 L278.68,102.61 L279.62,102.61 L280.56,102.58 L281.50,102.50 L282.07,102.58 L282.56,102.82 L282.89,103.18 L283.00,103.60 L282.89,104.02 L282.56,104.38 L282.07,104.62 L281.50,104.70 L280.56,104.92 L279.62,105.18 L278.68,105.45 L277.73,105.71 L276.79,105.95 L275.85,106.14 L274.91,106.28 L273.97,106.39 L273.02,106.50 L272.08,106.59 L271.14,106.68 L270.20,106.75 L269.26,106.81 L268.32,106.86 L267.38,106.90 L266.43,106.93 L265.49,106.94 L264.55,106.95 L263.61,106.94 L262.67,106.93 L261.73,106.90 L260.78,106.86 L259.84,106.81 L258.90,106.75 L257.96,106.68 L257.02,106.59 L256.07,106.50 L255.13,106.39 L254.19,106.28 L253.25,106.14 L252.31,105.96 L251.37,105.75 L250.42,105.51 L249.48,105.26 L248.54,105.02 L247.60,104.80 L246.99,104.71 L246.47,104.45 L246.12,104.06 L246.00,103.60 L246.12,103.14 L246.47,102.75 L246.99,102.49Z" fill="#080808" filter="url(#b1)" opacity="1.0"/>
<path d="M294.40,94.40 L295.28,94.41 L296.16,94.42 L297.04,94.44 L297.92,94.47 L298.80,94.49 L299.68,94.50 L300.56,94.50 L301.44,94.50 L302.32,94.50 L303.21,94.50 L304.09,94.50 L304.97,94.50 L305.85,94.50 L306.73,94.50 L307.61,94.50 L308.49,94.50 L309.37,94.50 L310.25,94.50 L311.13,94.50 L312.01,94.50 L312.89,94.50 L313.77,94.50 L314.65,94.50 L315.53,94.50 L316.41,94.50 L317.29,94.50 L318.17,94.50 L319.06,94.50 L319.94,94.50 L320.82,94.50 L321.70,94.51 L322.58,94.53 L323.46,94.56 L324.34,94.58 L325.22,94.59 L326.10,94.60 L326.41,94.66 L326.67,94.83 L326.84,95.09 L326.90,95.40 L326.84,95.71 L326.67,95.97 L326.41,96.14 L326.10,96.20 L325.22,96.21 L324.34,96.22 L323.46,96.24 L322.58,96.27 L321.70,96.29 L320.82,96.30 L319.94,96.30 L319.06,96.30 L318.17,96.30 L317.29,96.30 L316.41,96.30 L315.53,96.30 L314.65,96.30 L313.77,96.30 L312.89,96.30 L312.01,96.30 L311.13,96.30 L310.25,96.30 L309.37,96.30 L308.49,96.30 L307.61,96.30 L306.73,96.30 L305.85,96.30 L304.97,96.30 L304.09,96.30 L303.21,96.30 L302.32,96.30 L301.44,96.30 L300.56,96.30 L299.68,96.30 L298.80,96.31 L297.92,96.33 L297.04,96.36 L296.16,96.38 L295.28,96.39 L294.40,96.40 L294.02,96.32 L293.69,96.11 L293.48,95.78 L293.40,95.40 L293.48,95.02 L293.69,94.69 L294.02,94.48Z" fill="#444444" filter="url(#b1)" opacity="1.0"/>
<path d="M294.40,102.40 L295.28,102.41 L296.16,102.42 L297.04,102.44 L297.92,102.47 L298.80,102.49 L299.67,102.50 L300.55,102.50 L301.43,102.50 L302.31,102.50 L303.19,102.50 L304.07,102.50 L304.95,102.50 L305.83,102.50 L306.71,102.50 L307.59,102.50 L308.47,102.50 L309.35,102.50 L310.22,102.50 L311.10,102.50 L311.98,102.50 L312.86,102.50 L313.74,102.50 L314.62,102.50 L315.50,102.50 L316.38,102.50 L317.26,102.50 L318.14,102.50 L319.02,102.50 L319.90,102.50 L320.77,102.50 L321.65,102.51 L322.53,102.52 L323.41,102.53 L324.29,102.54 L325.17,102.55 L326.05,102.55 L326.38,102.61 L326.65,102.80 L326.84,103.07 L326.90,103.40 L326.84,103.73 L326.65,104.00 L326.38,104.19 L326.05,104.25 L325.17,104.25 L324.29,104.26 L323.41,104.27 L322.53,104.28 L321.65,104.29 L320.77,104.30 L319.90,104.30 L319.02,104.30 L318.14,104.30 L317.26,104.30 L316.38,104.30 L315.50,104.30 L314.62,104.30 L313.74,104.30 L312.86,104.30 L311.98,104.30 L311.10,104.30 L310.22,104.30 L309.35,104.30 L308.47,104.30 L307.59,104.30 L306.71,104.30 L305.83,104.30 L304.95,104.30 L304.07,104.30 L303.19,104.30 L302.31,104.30 L301.43,104.30 L300.55,104.30 L299.67,104.30 L298.80,104.31 L297.92,104.33 L297.04,104.36 L296.16,104.38 L295.28,104.39 L294.40,104.40 L294.02,104.32 L293.69,104.11 L293.48,103.78 L293.40,103.40 L293.48,103.02 L293.69,102.69 L294.02,102.48Z" fill="#383838" filter="url(#b1)" opacity="1.0"/>
<path d="M341.32,95.27 L342.19,95.26 L343.06,95.24 L343.92,95.20 L344.79,95.16 L345.65,95.12 L346.52,95.10 L347.38,95.10 L348.25,95.10 L349.11,95.10 L349.98,95.10 L350.84,95.10 L351.71,95.10 L352.57,95.10 L353.44,95.10 L354.30,95.10 L355.17,95.10 L356.03,95.10 L356.90,95.10 L357.77,95.10 L358.63,95.10 L359.50,95.10 L360.36,95.10 L361.23,95.10 L362.09,95.10 L362.96,95.10 L363.82,95.10 L364.69,95.10 L365.55,95.10 L366.42,95.10 L367.28,95.10 L368.15,95.12 L369.01,95.16 L369.88,95.20 L370.74,95.24 L371.61,95.26 L372.48,95.27 L372.68,95.31 L372.85,95.43 L372.96,95.60 L373.00,95.80 L372.96,96.00 L372.85,96.17 L372.68,96.29 L372.48,96.33 L371.61,96.34 L370.74,96.36 L369.88,96.40 L369.01,96.44 L368.15,96.48 L367.28,96.50 L366.42,96.50 L365.55,96.50 L364.69,96.50 L363.82,96.50 L362.96,96.50 L362.09,96.50 L361.23,96.50 L360.36,96.50 L359.50,96.50 L358.63,96.50 L357.77,96.50 L356.90,96.50 L356.03,96.50 L355.17,96.50 L354.30,96.50 L353.44,96.50 L352.57,96.50 L351.71,96.50 L350.84,96.50 L349.98,96.50 L349.11,96.50 L348.25,96.50 L347.38,96.50 L346.52,96.50 L345.65,96.48 L344.79,96.44 L343.92,96.40 L343.06,96.36 L342.19,96.34 L341.32,96.33 L341.12,96.29 L340.95,96.17 L340.84,96.00 L340.80,95.80 L340.84,95.60 L340.95,95.43 L341.12,95.31Z" fill="#666666" filter="url(#b1)" opacity="1.0"/>
<path d="M341.36,102.94 L342.21,102.93 L343.07,102.89 L343.92,102.85 L344.77,102.81 L345.62,102.77 L346.48,102.75 L347.33,102.75 L348.18,102.75 L349.03,102.75 L349.88,102.75 L350.74,102.75 L351.59,102.75 L352.44,102.75 L353.29,102.75 L354.14,102.75 L355.00,102.75 L355.85,102.75 L356.70,102.75 L357.55,102.75 L358.40,102.75 L359.26,102.75 L360.11,102.75 L360.96,102.75 L361.81,102.75 L362.66,102.75 L363.52,102.75 L364.37,102.75 L365.22,102.75 L366.07,102.75 L366.93,102.75 L367.78,102.77 L368.63,102.81 L369.48,102.85 L370.33,102.89 L371.19,102.93 L372.04,102.94 L372.25,102.98 L372.44,103.10 L372.56,103.28 L372.60,103.50 L372.56,103.72 L372.44,103.90 L372.25,104.02 L372.04,104.06 L371.19,104.07 L370.33,104.11 L369.48,104.15 L368.63,104.19 L367.78,104.23 L366.93,104.25 L366.07,104.25 L365.22,104.25 L364.37,104.25 L363.52,104.25 L362.66,104.25 L361.81,104.25 L360.96,104.25 L360.11,104.25 L359.26,104.25 L358.40,104.25 L357.55,104.25 L356.70,104.25 L355.85,104.25 L355.00,104.25 L354.14,104.25 L353.29,104.25 L352.44,104.25 L351.59,104.25 L350.74,104.25 L349.88,104.25 L349.03,104.25 L348.18,104.25 L347.33,104.25 L346.48,104.25 L345.62,104.23 L344.77,104.19 L343.92,104.15 L343.07,104.11 L342.21,104.07 L341.36,104.06 L341.15,104.02 L340.96,103.90 L340.84,103.72 L340.80,103.50 L340.84,103.28 L340.96,103.10 L341.15,102.98Z" fill="#505050" filter="url(#b1)" opacity="1.0"/>
<path d="M246.00,129.10 L246.99,129.42 L247.97,129.77 L248.96,130.12 L249.94,130.44 L250.93,130.71 L251.92,130.93 L252.90,131.13 L253.89,131.31 L254.88,131.47 L255.86,131.62 L256.85,131.75 L257.83,131.87 L258.82,131.96 L259.81,132.04 L260.79,132.11 L261.78,132.16 L262.76,132.19 L263.75,132.20 L264.74,132.20 L265.72,132.18 L266.71,132.14 L267.69,132.09 L268.68,132.02 L269.67,131.93 L270.65,131.83 L271.64,131.71 L272.62,131.57 L273.61,131.42 L274.60,131.25 L275.58,131.07 L276.57,130.86 L277.56,130.61 L278.54,130.32 L279.53,130.02 L280.51,129.70 L281.50,129.40 L282.27,129.55 L282.91,129.99 L283.35,130.63 L283.50,131.40 L283.35,132.17 L282.91,132.81 L282.27,133.25 L281.50,133.40 L280.51,133.67 L279.53,133.89 L278.54,134.09 L277.56,134.28 L276.57,134.47 L275.58,134.67 L274.60,134.85 L273.61,135.02 L272.62,135.18 L271.64,135.31 L270.65,135.43 L269.67,135.53 L268.68,135.62 L267.69,135.69 L266.71,135.74 L265.72,135.78 L264.74,135.80 L263.75,135.80 L262.76,135.79 L261.78,135.76 L260.79,135.71 L259.81,135.64 L258.82,135.56 L257.83,135.47 L256.85,135.35 L255.86,135.22 L254.88,135.07 L253.89,134.91 L252.90,134.73 L251.92,134.53 L250.93,134.32 L249.94,134.14 L248.96,133.97 L247.97,133.78 L246.99,133.57 L246.00,133.30 L245.23,133.14 L244.59,132.68 L244.15,132.00 L244.00,131.20 L244.15,130.40 L244.59,129.72 L245.23,129.26Z" fill="#0a0a0a" filter="url(#b1)" opacity="1.0"/>
<path d="M246.60,135.20 L247.53,135.25 L248.45,135.23 L249.38,135.21 L250.30,135.22 L251.22,135.29 L252.15,135.36 L253.07,135.43 L254.00,135.49 L254.92,135.55 L255.85,135.60 L256.77,135.65 L257.70,135.69 L258.62,135.73 L259.55,135.77 L260.47,135.79 L261.40,135.82 L262.32,135.84 L263.25,135.85 L264.18,135.86 L265.10,135.86 L266.02,135.86 L266.95,135.85 L267.88,135.84 L268.80,135.83 L269.72,135.81 L270.65,135.78 L271.57,135.75 L272.50,135.71 L273.42,135.67 L274.35,135.63 L275.27,135.58 L276.20,135.53 L277.12,135.54 L278.05,135.59 L278.97,135.63 L279.90,135.60 L280.51,135.72 L281.03,136.07 L281.38,136.59 L281.50,137.20 L281.38,137.81 L281.03,138.33 L280.51,138.68 L279.90,138.80 L278.97,138.92 L278.05,139.10 L277.12,139.28 L276.20,139.42 L275.27,139.48 L274.35,139.53 L273.42,139.57 L272.50,139.61 L271.57,139.65 L270.65,139.68 L269.72,139.71 L268.80,139.73 L267.88,139.74 L266.95,139.75 L266.02,139.76 L265.10,139.76 L264.18,139.76 L263.25,139.75 L262.32,139.74 L261.40,139.72 L260.47,139.69 L259.55,139.67 L258.62,139.63 L257.70,139.59 L256.77,139.55 L255.85,139.50 L254.92,139.45 L254.00,139.39 L253.07,139.33 L252.15,139.26 L251.22,139.19 L250.30,139.11 L249.38,138.95 L248.45,138.75 L247.53,138.55 L246.60,138.40 L245.99,138.28 L245.47,137.93 L245.12,137.41 L245.00,136.80 L245.12,136.19 L245.47,135.67 L245.99,135.32Z" fill="#0a0a0a" filter="url(#b1)" opacity="1.0"/>
<path d="M291.30,129.10 L292.31,129.25 L293.31,129.38 L294.32,129.50 L295.32,129.63 L296.33,129.77 L297.33,129.89 L298.34,130.00 L299.34,130.11 L300.35,130.20 L301.36,130.28 L302.36,130.36 L303.37,130.42 L304.37,130.48 L305.38,130.52 L306.38,130.56 L307.39,130.58 L308.39,130.60 L309.40,130.60 L310.41,130.60 L311.41,130.58 L312.42,130.56 L313.42,130.52 L314.43,130.48 L315.43,130.42 L316.44,130.36 L317.44,130.28 L318.45,130.20 L319.46,130.11 L320.46,130.00 L321.47,129.89 L322.47,129.77 L323.48,129.63 L324.48,129.50 L325.49,129.38 L326.49,129.25 L327.50,129.10 L327.92,129.18 L328.28,129.42 L328.52,129.78 L328.60,130.20 L328.52,130.62 L328.28,130.98 L327.92,131.22 L327.50,131.30 L326.49,131.49 L325.49,131.69 L324.48,131.88 L323.48,132.03 L322.47,132.17 L321.47,132.29 L320.46,132.40 L319.46,132.51 L318.45,132.60 L317.44,132.68 L316.44,132.76 L315.43,132.82 L314.43,132.88 L313.42,132.92 L312.42,132.96 L311.41,132.98 L310.41,133.00 L309.40,133.00 L308.39,133.00 L307.39,132.98 L306.38,132.96 L305.38,132.92 L304.37,132.88 L303.37,132.82 L302.36,132.76 L301.36,132.68 L300.35,132.60 L299.34,132.51 L298.34,132.40 L297.33,132.29 L296.33,132.17 L295.32,132.03 L294.32,131.88 L293.31,131.69 L292.31,131.49 L291.30,131.30 L290.88,131.22 L290.52,130.98 L290.28,130.62 L290.20,130.20 L290.28,129.78 L290.52,129.42 L290.88,129.18Z" fill="#0c0c0c" filter="url(#b1)" opacity="1.0"/>
<path d="M292.90,134.80 L293.82,134.83 L294.74,134.79 L295.66,134.77 L296.58,134.82 L297.50,134.88 L298.42,134.94 L299.34,135.00 L300.26,135.05 L301.17,135.10 L302.09,135.14 L303.01,135.18 L303.93,135.21 L304.85,135.24 L305.77,135.26 L306.69,135.28 L307.61,135.29 L308.53,135.30 L309.45,135.30 L310.37,135.30 L311.29,135.29 L312.21,135.28 L313.13,135.26 L314.05,135.24 L314.97,135.21 L315.89,135.18 L316.81,135.14 L317.73,135.10 L318.64,135.05 L319.56,135.00 L320.48,134.94 L321.40,134.88 L322.32,134.82 L323.24,134.77 L324.16,134.79 L325.08,134.83 L326.00,134.80 L326.46,134.89 L326.85,135.15 L327.11,135.54 L327.20,136.00 L327.11,136.46 L326.85,136.85 L326.46,137.11 L326.00,137.20 L325.08,137.34 L324.16,137.54 L323.24,137.72 L322.32,137.82 L321.40,137.88 L320.48,137.94 L319.56,138.00 L318.64,138.05 L317.73,138.10 L316.81,138.14 L315.89,138.18 L314.97,138.21 L314.05,138.24 L313.13,138.26 L312.21,138.28 L311.29,138.29 L310.37,138.30 L309.45,138.30 L308.53,138.30 L307.61,138.29 L306.69,138.28 L305.77,138.26 L304.85,138.24 L303.93,138.21 L303.01,138.18 L302.09,138.14 L301.17,138.10 L300.26,138.05 L299.34,138.00 L298.42,137.94 L297.50,137.88 L296.58,137.82 L295.66,137.72 L294.74,137.54 L293.82,137.34 L292.90,137.20 L292.44,137.11 L292.05,136.85 L291.79,136.46 L291.70,136.00 L291.79,135.54 L292.05,135.15 L292.44,134.89Z" fill="#0c0c0c" filter="url(#b1)" opacity="1.0"/>
<path d="M338.10,129.90 L339.07,129.98 L340.04,130.01 L341.01,130.05 L341.98,130.13 L342.95,130.23 L343.92,130.31 L344.89,130.39 L345.86,130.46 L346.83,130.52 L347.79,130.58 L348.76,130.63 L349.73,130.68 L350.70,130.72 L351.67,130.75 L352.64,130.77 L353.61,130.79 L354.58,130.80 L355.55,130.80 L356.52,130.80 L357.49,130.79 L358.46,130.77 L359.43,130.75 L360.40,130.72 L361.37,130.68 L362.34,130.63 L363.31,130.58 L364.27,130.52 L365.24,130.46 L366.21,130.39 L367.18,130.31 L368.15,130.23 L369.12,130.13 L370.09,130.05 L371.06,130.01 L372.03,129.98 L373.00,129.90 L373.42,129.98 L373.78,130.22 L374.02,130.58 L374.10,131.00 L374.02,131.42 L373.78,131.78 L373.42,132.02 L373.00,132.10 L372.03,132.26 L371.06,132.45 L370.09,132.62 L369.12,132.73 L368.15,132.83 L367.18,132.91 L366.21,132.99 L365.24,133.06 L364.27,133.12 L363.31,133.18 L362.34,133.23 L361.37,133.28 L360.40,133.32 L359.43,133.35 L358.46,133.37 L357.49,133.39 L356.52,133.40 L355.55,133.40 L354.58,133.40 L353.61,133.39 L352.64,133.37 L351.67,133.35 L350.70,133.32 L349.73,133.28 L348.76,133.23 L347.79,133.18 L346.83,133.12 L345.86,133.06 L344.89,132.99 L343.92,132.91 L342.95,132.83 L341.98,132.73 L341.01,132.62 L340.04,132.45 L339.07,132.26 L338.10,132.10 L337.68,132.02 L337.32,131.78 L337.08,131.42 L337.00,131.00 L337.08,130.58 L337.32,130.22 L337.68,129.98Z" fill="#0c0c0c" filter="url(#b1)" opacity="1.0"/>
<path d="M339.05,135.25 L339.96,135.28 L340.87,135.26 L341.77,135.25 L342.68,135.29 L343.59,135.34 L344.50,135.38 L345.41,135.43 L346.32,135.46 L347.22,135.50 L348.13,135.53 L349.04,135.56 L349.95,135.58 L350.86,135.60 L351.77,135.62 L352.67,135.63 L353.58,135.64 L354.49,135.65 L355.40,135.65 L356.31,135.65 L357.22,135.64 L358.12,135.63 L359.03,135.62 L359.94,135.60 L360.85,135.58 L361.76,135.56 L362.67,135.53 L363.57,135.50 L364.48,135.46 L365.39,135.43 L366.30,135.38 L367.21,135.34 L368.12,135.29 L369.02,135.25 L369.93,135.26 L370.84,135.28 L371.75,135.25 L372.19,135.34 L372.56,135.59 L372.81,135.96 L372.90,136.40 L372.81,136.84 L372.56,137.21 L372.19,137.46 L371.75,137.55 L370.84,137.65 L369.93,137.79 L369.02,137.92 L368.12,137.99 L367.21,138.04 L366.30,138.08 L365.39,138.13 L364.48,138.16 L363.57,138.20 L362.67,138.23 L361.76,138.26 L360.85,138.28 L359.94,138.30 L359.03,138.32 L358.12,138.33 L357.22,138.34 L356.31,138.35 L355.40,138.35 L354.49,138.35 L353.58,138.34 L352.67,138.33 L351.77,138.32 L350.86,138.30 L349.95,138.28 L349.04,138.26 L348.13,138.23 L347.22,138.20 L346.32,138.16 L345.41,138.13 L344.50,138.08 L343.59,138.04 L342.68,137.99 L341.77,137.92 L340.87,137.79 L339.96,137.65 L339.05,137.55 L338.61,137.46 L338.24,137.21 L337.99,136.84 L337.90,136.40 L337.99,135.96 L338.24,135.59 L338.61,135.34Z" fill="#0c0c0c" filter="url(#b1)" opacity="1.0"/>
<path d="M245.60,161.20 L246.54,161.31 L247.48,161.28 L248.42,161.18 L249.36,161.04 L250.29,160.91 L251.23,160.84 L252.17,160.86 L253.11,160.97 L254.05,161.07 L254.99,161.17 L255.93,161.26 L256.87,161.33 L257.81,161.40 L258.74,161.46 L259.68,161.51 L260.62,161.55 L261.56,161.58 L262.50,161.60 L263.44,161.61 L264.38,161.61 L265.32,161.61 L266.26,161.59 L267.19,161.57 L268.13,161.53 L269.07,161.49 L270.01,161.44 L270.95,161.38 L271.89,161.30 L272.83,161.23 L273.77,161.22 L274.71,161.30 L275.64,161.43 L276.58,161.56 L277.52,161.66 L278.46,161.68 L279.40,161.60 L280.09,161.74 L280.67,162.13 L281.06,162.71 L281.20,163.40 L281.06,164.09 L280.67,164.67 L280.09,165.06 L279.40,165.20 L278.46,165.41 L277.52,165.71 L276.58,166.06 L275.64,166.43 L274.71,166.77 L273.77,167.04 L272.83,167.22 L271.89,167.30 L270.95,167.38 L270.01,167.44 L269.07,167.49 L268.13,167.53 L267.19,167.57 L266.26,167.59 L265.32,167.61 L264.38,167.61 L263.44,167.61 L262.50,167.60 L261.56,167.58 L260.62,167.55 L259.68,167.51 L258.74,167.46 L257.81,167.40 L256.87,167.33 L255.93,167.26 L254.99,167.17 L254.05,167.07 L253.11,166.97 L252.17,166.85 L251.23,166.63 L250.29,166.29 L249.36,165.88 L248.42,165.43 L247.48,165.01 L246.54,164.65 L245.60,164.40 L244.99,164.28 L244.47,163.93 L244.12,163.41 L244.00,162.80 L244.12,162.19 L244.47,161.67 L244.99,161.32Z" fill="#0a0a0a" filter="url(#b1)" opacity="1.0"/>
<path d="M289.80,161.30 L290.82,161.31 L291.85,161.19 L292.88,161.01 L293.90,160.84 L294.93,160.77 L295.95,160.82 L296.98,160.89 L298.00,160.95 L299.03,161.00 L300.05,161.05 L301.08,161.09 L302.10,161.12 L303.12,161.15 L304.15,161.17 L305.18,161.19 L306.20,161.20 L307.23,161.20 L308.25,161.20 L309.28,161.19 L310.30,161.18 L311.33,161.16 L312.35,161.13 L313.38,161.10 L314.40,161.06 L315.43,161.01 L316.45,160.96 L317.48,160.90 L318.50,160.84 L319.53,160.77 L320.55,160.69 L321.58,160.62 L322.60,160.72 L323.63,160.92 L324.65,161.15 L325.68,161.31 L326.70,161.30 L327.43,161.44 L328.04,161.86 L328.46,162.47 L328.60,163.20 L328.46,163.93 L328.04,164.54 L327.43,164.96 L326.70,165.10 L325.68,165.32 L324.65,165.69 L323.63,166.12 L322.60,166.52 L321.58,166.79 L320.55,166.89 L319.53,166.97 L318.50,167.04 L317.48,167.10 L316.45,167.16 L315.43,167.21 L314.40,167.26 L313.38,167.30 L312.35,167.33 L311.33,167.36 L310.30,167.38 L309.28,167.39 L308.25,167.40 L307.23,167.40 L306.20,167.40 L305.18,167.39 L304.15,167.37 L303.12,167.35 L302.10,167.32 L301.08,167.29 L300.05,167.25 L299.03,167.20 L298.00,167.15 L296.98,167.09 L295.95,167.02 L294.93,166.93 L293.90,166.71 L292.88,166.37 L291.85,166.01 L290.82,165.69 L289.80,165.50 L289.03,165.34 L288.39,164.88 L287.95,164.20 L287.80,163.40 L287.95,162.60 L288.39,161.92 L289.03,161.46Z" fill="#0a0a0a" filter="url(#b1)" opacity="1.0"/>
<path d="M337.50,161.60 L338.51,161.64 L339.52,161.54 L340.53,161.38 L341.54,161.24 L342.56,161.19 L343.57,161.27 L344.58,161.35 L345.59,161.43 L346.60,161.50 L347.61,161.56 L348.62,161.62 L349.63,161.67 L350.64,161.71 L351.66,161.74 L352.67,161.77 L353.68,161.79 L354.69,161.80 L355.70,161.80 L356.71,161.80 L357.72,161.79 L358.73,161.77 L359.74,161.74 L360.76,161.71 L361.77,161.67 L362.78,161.62 L363.79,161.56 L364.80,161.50 L365.81,161.43 L366.82,161.35 L367.83,161.27 L368.84,161.19 L369.86,161.29 L370.87,161.51 L371.88,161.75 L372.89,161.91 L373.90,161.90 L374.55,162.03 L375.10,162.40 L375.47,162.95 L375.60,163.60 L375.47,164.25 L375.10,164.80 L374.55,165.17 L373.90,165.30 L372.89,165.55 L371.88,165.95 L370.87,166.42 L369.86,166.86 L368.84,167.15 L367.83,167.27 L366.82,167.35 L365.81,167.43 L364.80,167.50 L363.79,167.56 L362.78,167.62 L361.77,167.67 L360.76,167.71 L359.74,167.74 L358.73,167.77 L357.72,167.79 L356.71,167.80 L355.70,167.80 L354.69,167.80 L353.68,167.79 L352.67,167.77 L351.66,167.74 L350.64,167.71 L349.63,167.67 L348.62,167.62 L347.61,167.56 L346.60,167.50 L345.59,167.43 L344.58,167.35 L343.57,167.27 L342.56,167.16 L341.54,166.91 L340.53,166.55 L339.52,166.16 L338.51,165.82 L337.50,165.60 L336.73,165.45 L336.09,165.01 L335.65,164.37 L335.50,163.60 L335.65,162.83 L336.09,162.19 L336.73,161.75Z" fill="#0a0a0a" filter="url(#b1)" opacity="1.0"/>
<line x1="59.80" y1="218.00" x2="59.80" y2="332.90" stroke="#231f20" stroke-width="1.2"/>
<line x1="56.20" y1="332.30" x2="256.00" y2="332.30" stroke="#231f20" stroke-width="1.2"/>
<line x1="56.20" y1="332.30" x2="59.80" y2="332.30" stroke="#231f20" stroke-width="1.1"/>
<text x="53.00" y="335.40" font-size="9" text-anchor="end" font-weight="normal" fill="#231f20" stroke="#231f20" stroke-width="0.12">0</text>
<line x1="56.20" y1="311.48" x2="59.80" y2="311.48" stroke="#231f20" stroke-width="1.1"/>
<text x="53.00" y="314.58" font-size="9" text-anchor="end" font-weight="normal" fill="#231f20" stroke="#231f20" stroke-width="0.12">20</text>
<line x1="56.20" y1="290.66" x2="59.80" y2="290.66" stroke="#231f20" stroke-width="1.1"/>
<text x="53.00" y="293.76" font-size="9" text-anchor="end" font-weight="normal" fill="#231f20" stroke="#231f20" stroke-width="0.12">40</text>
<line x1="56.20" y1="269.84" x2="59.80" y2="269.84" stroke="#231f20" stroke-width="1.1"/>
<text x="53.00" y="272.94" font-size="9" text-anchor="end" font-weight="normal" fill="#231f20" stroke="#231f20" stroke-width="0.12">60</text>
<line x1="56.20" y1="249.02" x2="59.80" y2="249.02" stroke="#231f20" stroke-width="1.1"/>
<text x="53.00" y="252.12" font-size="9" text-anchor="end" font-weight="normal" fill="#231f20" stroke="#231f20" stroke-width="0.12">80</text>
<line x1="56.20" y1="228.20" x2="59.80" y2="228.20" stroke="#231f20" stroke-width="1.1"/>
<text x="53.00" y="231.30" font-size="9" text-anchor="end" font-weight="normal" fill="#231f20" stroke="#231f20" stroke-width="0.12">100</text>
<rect x="68.40" y="227.90" width="12.70" height="104.40" fill="#5d9c3a"/>
<rect x="68.95" y="228.40" width="11.60" height="103.90" fill="#6ba547"/>
<line x1="74.75" y1="227.90" x2="74.75" y2="227.30" stroke="#5d9c3a" stroke-width="1"/>
<line x1="71.75" y1="227.30" x2="77.75" y2="227.30" stroke="#5d9c3a" stroke-width="1"/>
<rect x="86.80" y="227.90" width="12.70" height="104.40" fill="#47205c"/>
<rect x="87.35" y="228.40" width="11.60" height="103.90" fill="#522a66"/>
<line x1="93.15" y1="227.90" x2="93.15" y2="227.30" stroke="#47205c" stroke-width="1"/>
<line x1="90.15" y1="227.30" x2="96.15" y2="227.30" stroke="#47205c" stroke-width="1"/>
<rect x="118.10" y="265.60" width="12.70" height="66.70" fill="#5d9c3a"/>
<rect x="118.65" y="266.10" width="11.60" height="66.20" fill="#6ba547"/>
<line x1="124.45" y1="265.60" x2="124.45" y2="263.10" stroke="#5d9c3a" stroke-width="1"/>
<line x1="121.45" y1="263.10" x2="127.45" y2="263.10" stroke="#5d9c3a" stroke-width="1"/>
<rect x="136.50" y="228.60" width="12.70" height="103.70" fill="#47205c"/>
<rect x="137.05" y="229.10" width="11.60" height="103.20" fill="#522a66"/>
<line x1="142.85" y1="228.60" x2="142.85" y2="226.40" stroke="#47205c" stroke-width="1"/>
<line x1="139.85" y1="226.40" x2="145.85" y2="226.40" stroke="#47205c" stroke-width="1"/>
<rect x="167.90" y="267.90" width="12.70" height="64.40" fill="#5d9c3a"/>
<rect x="168.45" y="268.40" width="11.60" height="63.90" fill="#6ba547"/>
<line x1="174.25" y1="267.90" x2="174.25" y2="267.30" stroke="#5d9c3a" stroke-width="1"/>
<line x1="171.25" y1="267.30" x2="177.25" y2="267.30" stroke="#5d9c3a" stroke-width="1"/>
<rect x="186.30" y="301.90" width="12.70" height="30.40" fill="#47205c"/>
<rect x="186.85" y="302.40" width="11.60" height="29.90" fill="#522a66"/>
<line x1="192.65" y1="301.90" x2="192.65" y2="300.40" stroke="#47205c" stroke-width="1"/>
<line x1="189.65" y1="300.40" x2="195.65" y2="300.40" stroke="#47205c" stroke-width="1"/>
<rect x="217.60" y="322.00" width="12.70" height="10.30" fill="#5d9c3a"/>
<rect x="218.15" y="322.50" width="11.60" height="9.80" fill="#6ba547"/>
<line x1="223.95" y1="322.00" x2="223.95" y2="321.50" stroke="#5d9c3a" stroke-width="1"/>
<line x1="220.95" y1="321.50" x2="226.95" y2="321.50" stroke="#5d9c3a" stroke-width="1"/>
<rect x="235.70" y="322.50" width="12.70" height="9.80" fill="#47205c"/>
<rect x="236.25" y="323.00" width="11.60" height="9.30" fill="#522a66"/>
<line x1="242.05" y1="322.50" x2="242.05" y2="322.00" stroke="#47205c" stroke-width="1"/>
<line x1="239.05" y1="322.00" x2="245.05" y2="322.00" stroke="#47205c" stroke-width="1"/>
<line x1="84.20" y1="332.30" x2="84.20" y2="335.70" stroke="#231f20" stroke-width="1"/>
<line x1="133.70" y1="332.30" x2="133.70" y2="335.70" stroke="#231f20" stroke-width="1"/>
<line x1="183.20" y1="332.30" x2="183.20" y2="335.70" stroke="#231f20" stroke-width="1"/>
<line x1="232.70" y1="332.30" x2="232.70" y2="335.70" stroke="#231f20" stroke-width="1"/>
<circle cx="124.40" cy="256.70" r="1.15" fill="#231f20" filter="url(#b0)"/>
<circle cx="174.10" cy="261.70" r="1.15" fill="#231f20" filter="url(#b0)"/>
<circle cx="192.60" cy="294.40" r="1.15" fill="#231f20" filter="url(#b0)"/>
<circle cx="221.90" cy="315.40" r="1.1" fill="#231f20" filter="url(#b0)"/>
<circle cx="225.20" cy="315.40" r="1.1" fill="#231f20" filter="url(#b0)"/>
<circle cx="241.20" cy="316.50" r="1.1" fill="#231f20" filter="url(#b0)"/>
<circle cx="244.50" cy="316.50" r="1.1" fill="#231f20" filter="url(#b0)"/>
<text x="84.40" y="347.80" font-size="9" text-anchor="middle" font-weight="normal" fill="#231f20" stroke="#231f20" stroke-width="0.12" textLength="29.20" lengthAdjust="spacingAndGlyphs">Control</text>
<text x="133.90" y="347.80" font-size="9" text-anchor="middle" font-weight="normal" fill="#231f20" stroke="#231f20" stroke-width="0.12" textLength="38.10" lengthAdjust="spacingAndGlyphs">Belinostat</text>
<text x="183.40" y="347.80" font-size="9" text-anchor="middle" font-weight="normal" fill="#231f20" stroke="#231f20" stroke-width="0.12" textLength="32.80" lengthAdjust="spacingAndGlyphs">Reolysin</text>
<text x="232.90" y="347.80" font-size="9" text-anchor="middle" font-weight="normal" fill="#231f20" stroke="#231f20" stroke-width="0.12" textLength="39.60" lengthAdjust="spacingAndGlyphs">Bel + Reo</text>
<line x1="313.40" y1="218.00" x2="313.40" y2="332.90" stroke="#231f20" stroke-width="1.2"/>
<line x1="309.80" y1="332.30" x2="511.80" y2="332.30" stroke="#231f20" stroke-width="1.2"/>
<line x1="309.80" y1="332.30" x2="313.40" y2="332.30" stroke="#231f20" stroke-width="1.1"/>
<text x="306.60" y="335.40" font-size="9" text-anchor="end" font-weight="normal" fill="#231f20" stroke="#231f20" stroke-width="0.12">0</text>
<line x1="309.80" y1="311.48" x2="313.40" y2="311.48" stroke="#231f20" stroke-width="1.1"/>
<text x="306.60" y="314.58" font-size="9" text-anchor="end" font-weight="normal" fill="#231f20" stroke="#231f20" stroke-width="0.12">20</text>
<line x1="309.80" y1="290.66" x2="313.40" y2="290.66" stroke="#231f20" stroke-width="1.1"/>
<text x="306.60" y="293.76" font-size="9" text-anchor="end" font-weight="normal" fill="#231f20" stroke="#231f20" stroke-width="0.12">40</text>
<line x1="309.80" y1="269.84" x2="313.40" y2="269.84" stroke="#231f20" stroke-width="1.1"/>
<text x="306.60" y="272.94" font-size="9" text-anchor="end" font-weight="normal" fill="#231f20" stroke="#231f20" stroke-width="0.12">60</text>
<line x1="309.80" y1="249.02" x2="313.40" y2="249.02" stroke="#231f20" stroke-width="1.1"/>
<text x="306.60" y="252.12" font-size="9" text-anchor="end" font-weight="normal" fill="#231f20" stroke="#231f20" stroke-width="0.12">80</text>
<line x1="309.80" y1="228.20" x2="313.40" y2="228.20" stroke="#231f20" stroke-width="1.1"/>
<text x="306.60" y="231.30" font-size="9" text-anchor="end" font-weight="normal" fill="#231f20" stroke="#231f20" stroke-width="0.12">100</text>
<rect x="322.40" y="227.60" width="12.70" height="104.70" fill="#233f70"/>
<rect x="322.95" y="228.10" width="11.60" height="104.20" fill="#2c4a7c"/>
<line x1="328.75" y1="227.60" x2="328.75" y2="226.40" stroke="#233f70" stroke-width="1"/>
<line x1="325.75" y1="226.40" x2="331.75" y2="226.40" stroke="#233f70" stroke-width="1"/>
<rect x="340.80" y="227.60" width="12.70" height="104.70" fill="#98001f"/>
<rect x="341.35" y="228.10" width="11.60" height="104.20" fill="#a60028"/>
<line x1="347.15" y1="227.60" x2="347.15" y2="226.40" stroke="#98001f" stroke-width="1"/>
<line x1="344.15" y1="226.40" x2="350.15" y2="226.40" stroke="#98001f" stroke-width="1"/>
<rect x="372.00" y="266.10" width="12.70" height="66.20" fill="#233f70"/>
<rect x="372.55" y="266.60" width="11.60" height="65.70" fill="#2c4a7c"/>
<line x1="378.35" y1="266.10" x2="378.35" y2="261.40" stroke="#233f70" stroke-width="1"/>
<line x1="375.35" y1="261.40" x2="381.35" y2="261.40" stroke="#233f70" stroke-width="1"/>
<rect x="390.50" y="230.40" width="12.70" height="101.90" fill="#98001f"/>
<rect x="391.05" y="230.90" width="11.60" height="101.40" fill="#a60028"/>
<line x1="396.85" y1="230.40" x2="396.85" y2="226.90" stroke="#98001f" stroke-width="1"/>
<line x1="393.85" y1="226.90" x2="399.85" y2="226.90" stroke="#98001f" stroke-width="1"/>
<rect x="422.20" y="269.60" width="12.70" height="62.70" fill="#233f70"/>
<rect x="422.75" y="270.10" width="11.60" height="62.20" fill="#2c4a7c"/>
<line x1="428.55" y1="269.60" x2="428.55" y2="267.60" stroke="#233f70" stroke-width="1"/>
<line x1="425.55" y1="267.60" x2="431.55" y2="267.60" stroke="#233f70" stroke-width="1"/>
<rect x="440.30" y="296.20" width="12.70" height="36.10" fill="#98001f"/>
<rect x="440.85" y="296.70" width="11.60" height="35.60" fill="#a60028"/>
<line x1="446.65" y1="296.20" x2="446.65" y2="293.40" stroke="#98001f" stroke-width="1"/>
<line x1="443.65" y1="293.40" x2="449.65" y2="293.40" stroke="#98001f" stroke-width="1"/>
<rect x="472.00" y="326.70" width="12.70" height="5.60" fill="#233f70"/>
<rect x="472.55" y="327.20" width="11.60" height="5.10" fill="#2c4a7c"/>
<line x1="478.35" y1="326.70" x2="478.35" y2="326.00" stroke="#233f70" stroke-width="1"/>
<line x1="475.35" y1="326.00" x2="481.35" y2="326.00" stroke="#233f70" stroke-width="1"/>
<rect x="490.00" y="325.70" width="12.70" height="6.60" fill="#98001f"/>
<rect x="490.55" y="326.20" width="11.60" height="6.10" fill="#a60028"/>
<line x1="496.35" y1="325.70" x2="496.35" y2="324.50" stroke="#98001f" stroke-width="1"/>
<line x1="493.35" y1="324.50" x2="499.35" y2="324.50" stroke="#98001f" stroke-width="1"/>
<line x1="338.20" y1="332.30" x2="338.20" y2="335.70" stroke="#231f20" stroke-width="1"/>
<line x1="387.70" y1="332.30" x2="387.70" y2="335.70" stroke="#231f20" stroke-width="1"/>
<line x1="437.20" y1="332.30" x2="437.20" y2="335.70" stroke="#231f20" stroke-width="1"/>
<line x1="486.70" y1="332.30" x2="486.70" y2="335.70" stroke="#231f20" stroke-width="1"/>
<circle cx="378.40" cy="255.40" r="1.15" fill="#231f20" filter="url(#b0)"/>
<circle cx="428.50" cy="261.40" r="1.15" fill="#231f20" filter="url(#b0)"/>
<circle cx="446.70" cy="287.70" r="1.15" fill="#231f20" filter="url(#b0)"/>
<circle cx="476.60" cy="320.10" r="1.1" fill="#231f20" filter="url(#b0)"/>
<circle cx="479.90" cy="320.10" r="1.1" fill="#231f20" filter="url(#b0)"/>
<circle cx="494.90" cy="318.50" r="1.1" fill="#231f20" filter="url(#b0)"/>
<circle cx="498.20" cy="318.50" r="1.1" fill="#231f20" filter="url(#b0)"/>
<text x="338.40" y="347.80" font-size="9" text-anchor="middle" font-weight="normal" fill="#231f20" stroke="#231f20" stroke-width="0.12" textLength="29.20" lengthAdjust="spacingAndGlyphs">Control</text>
<text x="387.90" y="347.80" font-size="9" text-anchor="middle" font-weight="normal" fill="#231f20" stroke="#231f20" stroke-width="0.12" textLength="38.10" lengthAdjust="spacingAndGlyphs">Belinostat</text>
<text x="437.40" y="347.80" font-size="9" text-anchor="middle" font-weight="normal" fill="#231f20" stroke="#231f20" stroke-width="0.12" textLength="32.80" lengthAdjust="spacingAndGlyphs">Reolysin</text>
<text x="486.90" y="347.80" font-size="9" text-anchor="middle" font-weight="normal" fill="#231f20" stroke="#231f20" stroke-width="0.12" textLength="39.60" lengthAdjust="spacingAndGlyphs">Bel + Reo</text>
<text transform="translate(29.30,274.9) rotate(-90)" x="0" y="0" font-size="10" text-anchor="middle" fill="#231f20" stroke="#231f20" stroke-width="0.42" textLength="41.2" lengthAdjust="spacingAndGlyphs">Viability (%)</text>
<text transform="translate(283.30,274.9) rotate(-90)" x="0" y="0" font-size="10" text-anchor="middle" fill="#231f20" stroke="#231f20" stroke-width="0.42" textLength="41.2" lengthAdjust="spacingAndGlyphs">Viability (%)</text>
<rect x="190.00" y="218.50" width="6.90" height="7.60" fill="#6ba547"/>
<rect x="190.00" y="232.20" width="6.90" height="7.00" fill="#522a66"/>
<text x="200.90" y="225.40" font-size="9" text-anchor="start" font-weight="normal" fill="#231f20" stroke="#231f20" stroke-width="0.12" textLength="50.40" lengthAdjust="spacingAndGlyphs">KARPAS-299</text>
<text x="200.90" y="238.80" font-size="9" text-anchor="start" font-weight="normal" fill="#231f20" stroke="#231f20" stroke-width="0.12" textLength="56.20" lengthAdjust="spacingAndGlyphs">KARPAS-299R</text>
<rect x="470.30" y="218.40" width="7.50" height="7.60" fill="#2c4a7c"/>
<rect x="470.30" y="231.80" width="7.50" height="7.60" fill="#a60028"/>
<text x="482.00" y="225.40" font-size="9" text-anchor="start" font-weight="normal" fill="#231f20" stroke="#231f20" stroke-width="0.12" textLength="25.50" lengthAdjust="spacingAndGlyphs">HuT-78</text>
<text x="482.00" y="238.80" font-size="9" text-anchor="start" font-weight="normal" fill="#231f20" stroke="#231f20" stroke-width="0.12" textLength="31.50" lengthAdjust="spacingAndGlyphs">HuT-78R</text>
<text x="8.60" y="197.50" font-size="14" text-anchor="start" font-weight="bold" fill="#231f20" stroke="#231f20" stroke-width="0.35" textLength="8.70" lengthAdjust="spacingAndGlyphs">B</text>
<text x="8.00" y="371.20" font-size="14" text-anchor="start" font-weight="bold" fill="#231f20" stroke="#231f20" stroke-width="0.35" textLength="9.20" lengthAdjust="spacingAndGlyphs">C</text>
<line x1="60.00" y1="382.40" x2="60.00" y2="499.20" stroke="#231f20" stroke-width="1.2"/>
<line x1="56.40" y1="498.60" x2="254.80" y2="498.60" stroke="#231f20" stroke-width="1.2"/>
<line x1="56.40" y1="498.60" x2="60.00" y2="498.60" stroke="#231f20" stroke-width="1.1"/>
<text x="53.20" y="501.50" font-size="9.6" text-anchor="end" font-weight="normal" fill="#231f20" stroke="#231f20" stroke-width="0.12">0</text>
<line x1="56.40" y1="475.96" x2="60.00" y2="475.96" stroke="#231f20" stroke-width="1.1"/>
<text x="53.20" y="478.86" font-size="9.6" text-anchor="end" font-weight="normal" fill="#231f20" stroke="#231f20" stroke-width="0.12">20</text>
<line x1="56.40" y1="453.32" x2="60.00" y2="453.32" stroke="#231f20" stroke-width="1.1"/>
<text x="53.20" y="456.22" font-size="9.6" text-anchor="end" font-weight="normal" fill="#231f20" stroke="#231f20" stroke-width="0.12">40</text>
<line x1="56.40" y1="430.68" x2="60.00" y2="430.68" stroke="#231f20" stroke-width="1.1"/>
<text x="53.20" y="433.58" font-size="9.6" text-anchor="end" font-weight="normal" fill="#231f20" stroke="#231f20" stroke-width="0.12">60</text>
<line x1="56.40" y1="408.04" x2="60.00" y2="408.04" stroke="#231f20" stroke-width="1.1"/>
<text x="53.20" y="410.94" font-size="9.6" text-anchor="end" font-weight="normal" fill="#231f20" stroke="#231f20" stroke-width="0.12">80</text>
<line x1="56.40" y1="385.40" x2="60.00" y2="385.40" stroke="#231f20" stroke-width="1.1"/>
<text x="53.20" y="388.30" font-size="9.6" text-anchor="end" font-weight="normal" fill="#231f20" stroke="#231f20" stroke-width="0.12">100</text>
<rect x="68.40" y="490.50" width="12.70" height="8.10" fill="#5d9c3a"/>
<rect x="68.95" y="491.00" width="11.60" height="7.60" fill="#6ba547"/>
<line x1="74.75" y1="490.50" x2="74.75" y2="488.50" stroke="#5d9c3a" stroke-width="1"/>
<line x1="71.75" y1="488.50" x2="77.75" y2="488.50" stroke="#5d9c3a" stroke-width="1"/>
<rect x="86.80" y="490.00" width="12.70" height="8.60" fill="#47205c"/>
<rect x="87.35" y="490.50" width="11.60" height="8.10" fill="#522a66"/>
<line x1="93.15" y1="490.00" x2="93.15" y2="487.20" stroke="#47205c" stroke-width="1"/>
<line x1="90.15" y1="487.20" x2="96.15" y2="487.20" stroke="#47205c" stroke-width="1"/>
<rect x="117.60" y="434.60" width="12.70" height="64.00" fill="#5d9c3a"/>
<rect x="118.15" y="435.10" width="11.60" height="63.50" fill="#6ba547"/>
<line x1="123.95" y1="434.60" x2="123.95" y2="431.60" stroke="#5d9c3a" stroke-width="1"/>
<line x1="120.95" y1="431.60" x2="126.95" y2="431.60" stroke="#5d9c3a" stroke-width="1"/>
<rect x="136.00" y="484.30" width="12.70" height="14.30" fill="#47205c"/>
<rect x="136.55" y="484.80" width="11.60" height="13.80" fill="#522a66"/>
<line x1="142.35" y1="484.30" x2="142.35" y2="478.80" stroke="#47205c" stroke-width="1"/>
<line x1="139.35" y1="478.80" x2="145.35" y2="478.80" stroke="#47205c" stroke-width="1"/>
<rect x="166.40" y="449.20" width="12.70" height="49.40" fill="#5d9c3a"/>
<rect x="166.95" y="449.70" width="11.60" height="48.90" fill="#6ba547"/>
<line x1="172.75" y1="449.20" x2="172.75" y2="448.50" stroke="#5d9c3a" stroke-width="1"/>
<line x1="169.75" y1="448.50" x2="175.75" y2="448.50" stroke="#5d9c3a" stroke-width="1"/>
<rect x="185.00" y="425.90" width="12.70" height="72.70" fill="#47205c"/>
<rect x="185.55" y="426.40" width="11.60" height="72.20" fill="#522a66"/>
<line x1="191.35" y1="425.90" x2="191.35" y2="425.20" stroke="#47205c" stroke-width="1"/>
<line x1="188.35" y1="425.20" x2="194.35" y2="425.20" stroke="#47205c" stroke-width="1"/>
<rect x="215.10" y="396.40" width="12.70" height="102.20" fill="#5d9c3a"/>
<rect x="215.65" y="396.90" width="11.60" height="101.70" fill="#6ba547"/>
<line x1="221.45" y1="396.40" x2="221.45" y2="394.90" stroke="#5d9c3a" stroke-width="1"/>
<line x1="218.45" y1="394.90" x2="224.45" y2="394.90" stroke="#5d9c3a" stroke-width="1"/>
<rect x="233.70" y="399.10" width="12.70" height="99.50" fill="#47205c"/>
<rect x="234.25" y="399.60" width="11.60" height="99.00" fill="#522a66"/>
<line x1="240.05" y1="399.10" x2="240.05" y2="394.10" stroke="#47205c" stroke-width="1"/>
<line x1="237.05" y1="394.10" x2="243.05" y2="394.10" stroke="#47205c" stroke-width="1"/>
<line x1="84.20" y1="498.60" x2="84.20" y2="502.00" stroke="#231f20" stroke-width="1"/>
<line x1="133.20" y1="498.60" x2="133.20" y2="502.00" stroke="#231f20" stroke-width="1"/>
<line x1="182.20" y1="498.60" x2="182.20" y2="502.00" stroke="#231f20" stroke-width="1"/>
<line x1="230.90" y1="498.60" x2="230.90" y2="502.00" stroke="#231f20" stroke-width="1"/>
<circle cx="124.00" cy="426.70" r="1.15" fill="#231f20" filter="url(#b0)"/>
<circle cx="172.80" cy="441.50" r="1.15" fill="#231f20" filter="url(#b0)"/>
<circle cx="191.40" cy="419.20" r="1.15" fill="#231f20" filter="url(#b0)"/>
<circle cx="219.80" cy="388.80" r="1.1" fill="#231f20" filter="url(#b0)"/>
<circle cx="223.10" cy="388.80" r="1.1" fill="#231f20" filter="url(#b0)"/>
<circle cx="238.15" cy="388.80" r="1.1" fill="#231f20" filter="url(#b0)"/>
<circle cx="241.45" cy="388.80" r="1.1" fill="#231f20" filter="url(#b0)"/>
<text x="84.20" y="514.40" font-size="9" text-anchor="middle" font-weight="normal" fill="#231f20" stroke="#231f20" stroke-width="0.12" textLength="28.90" lengthAdjust="spacingAndGlyphs">Control</text>
<text x="133.00" y="514.40" font-size="9" text-anchor="middle" font-weight="normal" fill="#231f20" stroke="#231f20" stroke-width="0.12" textLength="38.50" lengthAdjust="spacingAndGlyphs">Belinostat</text>
<text x="182.00" y="514.40" font-size="9" text-anchor="middle" font-weight="normal" fill="#231f20" stroke="#231f20" stroke-width="0.12" textLength="33.00" lengthAdjust="spacingAndGlyphs">Reolysin</text>
<text x="231.10" y="514.40" font-size="9" text-anchor="middle" font-weight="normal" fill="#231f20" stroke="#231f20" stroke-width="0.12" textLength="40.60" lengthAdjust="spacingAndGlyphs">Bel + Reo</text>
<line x1="313.50" y1="382.40" x2="313.50" y2="499.20" stroke="#231f20" stroke-width="1.2"/>
<line x1="309.90" y1="498.60" x2="508.80" y2="498.60" stroke="#231f20" stroke-width="1.2"/>
<line x1="309.90" y1="498.60" x2="313.50" y2="498.60" stroke="#231f20" stroke-width="1.1"/>
<text x="306.70" y="501.50" font-size="9.6" text-anchor="end" font-weight="normal" fill="#231f20" stroke="#231f20" stroke-width="0.12">0</text>
<line x1="309.90" y1="470.20" x2="313.50" y2="470.20" stroke="#231f20" stroke-width="1.1"/>
<text x="306.70" y="473.10" font-size="9.6" text-anchor="end" font-weight="normal" fill="#231f20" stroke="#231f20" stroke-width="0.12">25</text>
<line x1="309.90" y1="441.80" x2="313.50" y2="441.80" stroke="#231f20" stroke-width="1.1"/>
<text x="306.70" y="444.70" font-size="9.6" text-anchor="end" font-weight="normal" fill="#231f20" stroke="#231f20" stroke-width="0.12">50</text>
<line x1="309.90" y1="413.40" x2="313.50" y2="413.40" stroke="#231f20" stroke-width="1.1"/>
<text x="306.70" y="416.30" font-size="9.6" text-anchor="end" font-weight="normal" fill="#231f20" stroke="#231f20" stroke-width="0.12">75</text>
<line x1="309.90" y1="385.00" x2="313.50" y2="385.00" stroke="#231f20" stroke-width="1.1"/>
<text x="306.70" y="387.90" font-size="9.6" text-anchor="end" font-weight="normal" fill="#231f20" stroke="#231f20" stroke-width="0.12">100</text>
<rect x="322.40" y="490.00" width="12.70" height="8.60" fill="#233f70"/>
<rect x="322.95" y="490.50" width="11.60" height="8.10" fill="#2c4a7c"/>
<line x1="328.75" y1="490.00" x2="328.75" y2="488.20" stroke="#233f70" stroke-width="1"/>
<line x1="325.75" y1="488.20" x2="331.75" y2="488.20" stroke="#233f70" stroke-width="1"/>
<rect x="340.80" y="489.20" width="12.70" height="9.40" fill="#98001f"/>
<rect x="341.35" y="489.70" width="11.60" height="8.90" fill="#a60028"/>
<line x1="347.15" y1="489.20" x2="347.15" y2="488.20" stroke="#98001f" stroke-width="1"/>
<line x1="344.15" y1="488.20" x2="350.15" y2="488.20" stroke="#98001f" stroke-width="1"/>
<rect x="371.60" y="437.80" width="12.70" height="60.80" fill="#233f70"/>
<rect x="372.15" y="438.30" width="11.60" height="60.30" fill="#2c4a7c"/>
<line x1="377.95" y1="437.80" x2="377.95" y2="436.10" stroke="#233f70" stroke-width="1"/>
<line x1="374.95" y1="436.10" x2="380.95" y2="436.10" stroke="#233f70" stroke-width="1"/>
<rect x="390.00" y="483.00" width="12.70" height="15.60" fill="#98001f"/>
<rect x="390.55" y="483.50" width="11.60" height="15.10" fill="#a60028"/>
<line x1="396.35" y1="483.00" x2="396.35" y2="481.30" stroke="#98001f" stroke-width="1"/>
<line x1="393.35" y1="481.30" x2="399.35" y2="481.30" stroke="#98001f" stroke-width="1"/>
<rect x="419.90" y="468.60" width="12.70" height="30.00" fill="#233f70"/>
<rect x="420.45" y="469.10" width="11.60" height="29.50" fill="#2c4a7c"/>
<line x1="426.25" y1="468.60" x2="426.25" y2="464.40" stroke="#233f70" stroke-width="1"/>
<line x1="423.25" y1="464.40" x2="429.25" y2="464.40" stroke="#233f70" stroke-width="1"/>
<rect x="438.30" y="439.80" width="12.70" height="58.80" fill="#98001f"/>
<rect x="438.85" y="440.30" width="11.60" height="58.30" fill="#a60028"/>
<line x1="444.65" y1="439.80" x2="444.65" y2="439.30" stroke="#98001f" stroke-width="1"/>
<line x1="441.65" y1="439.30" x2="447.65" y2="439.30" stroke="#98001f" stroke-width="1"/>
<rect x="469.10" y="399.10" width="12.70" height="99.50" fill="#233f70"/>
<rect x="469.65" y="399.60" width="11.60" height="99.00" fill="#2c4a7c"/>
<line x1="475.45" y1="399.10" x2="475.45" y2="397.60" stroke="#233f70" stroke-width="1"/>
<line x1="472.45" y1="397.60" x2="478.45" y2="397.60" stroke="#233f70" stroke-width="1"/>
<rect x="487.50" y="405.30" width="12.70" height="93.30" fill="#98001f"/>
<rect x="488.05" y="405.80" width="11.60" height="92.80" fill="#a60028"/>
<line x1="493.85" y1="405.30" x2="493.85" y2="398.80" stroke="#98001f" stroke-width="1"/>
<line x1="490.85" y1="398.80" x2="496.85" y2="398.80" stroke="#98001f" stroke-width="1"/>
<line x1="337.70" y1="498.60" x2="337.70" y2="502.00" stroke="#231f20" stroke-width="1"/>
<line x1="386.70" y1="498.60" x2="386.70" y2="502.00" stroke="#231f20" stroke-width="1"/>
<line x1="435.70" y1="498.60" x2="435.70" y2="502.00" stroke="#231f20" stroke-width="1"/>
<line x1="484.40" y1="498.60" x2="484.40" y2="502.00" stroke="#231f20" stroke-width="1"/>
<circle cx="378.00" cy="430.10" r="1.15" fill="#231f20" filter="url(#b0)"/>
<circle cx="426.30" cy="459.90" r="1.15" fill="#231f20" filter="url(#b0)"/>
<circle cx="444.70" cy="433.90" r="1.15" fill="#231f20" filter="url(#b0)"/>
<circle cx="473.70" cy="391.90" r="1.1" fill="#231f20" filter="url(#b0)"/>
<circle cx="477.00" cy="391.90" r="1.1" fill="#231f20" filter="url(#b0)"/>
<circle cx="492.00" cy="393.10" r="1.1" fill="#231f20" filter="url(#b0)"/>
<circle cx="495.30" cy="393.10" r="1.1" fill="#231f20" filter="url(#b0)"/>
<text x="337.70" y="514.40" font-size="9" text-anchor="middle" font-weight="normal" fill="#231f20" stroke="#231f20" stroke-width="0.12" textLength="29.00" lengthAdjust="spacingAndGlyphs">Control</text>
<text x="386.50" y="514.40" font-size="9" text-anchor="middle" font-weight="normal" fill="#231f20" stroke="#231f20" stroke-width="0.12" textLength="38.50" lengthAdjust="spacingAndGlyphs">Belinostat</text>
<text x="435.50" y="514.40" font-size="9" text-anchor="middle" font-weight="normal" fill="#231f20" stroke="#231f20" stroke-width="0.12" textLength="33.00" lengthAdjust="spacingAndGlyphs">Reolysin</text>
<text x="484.60" y="514.40" font-size="9" text-anchor="middle" font-weight="normal" fill="#231f20" stroke="#231f20" stroke-width="0.12" textLength="40.60" lengthAdjust="spacingAndGlyphs">Bel + Reo</text>
<text transform="translate(28.20,440.5) rotate(-90)" x="0" y="0" font-size="10.8" text-anchor="middle" fill="#231f20" stroke="#231f20" stroke-width="0.38" textLength="61.2" lengthAdjust="spacingAndGlyphs"><tspan>% sub-G</tspan><tspan font-size="7" dy="2.0">0</tspan><tspan dy="-2.0">/G</tspan><tspan font-size="7" dy="2.0">1</tspan><tspan dy="-2.0"> cells</tspan></text>
<text transform="translate(282.20,440.5) rotate(-90)" x="0" y="0" font-size="10.8" text-anchor="middle" fill="#231f20" stroke="#231f20" stroke-width="0.38" textLength="61.2" lengthAdjust="spacingAndGlyphs"><tspan>% sub-G</tspan><tspan font-size="7" dy="2.0">0</tspan><tspan dy="-2.0">/G</tspan><tspan font-size="7" dy="2.0">1</tspan><tspan dy="-2.0"> cells</tspan></text>
<rect x="67.30" y="383.00" width="7.40" height="7.70" fill="#6ba547"/>
<rect x="67.30" y="395.90" width="7.40" height="7.80" fill="#522a66"/>
<text x="78.60" y="390.00" font-size="9" text-anchor="start" font-weight="normal" fill="#231f20" stroke="#231f20" stroke-width="0.12" textLength="50.30" lengthAdjust="spacingAndGlyphs">KARPAS-299</text>
<text x="78.60" y="403.00" font-size="9" text-anchor="start" font-weight="normal" fill="#231f20" stroke="#231f20" stroke-width="0.12" textLength="55.70" lengthAdjust="spacingAndGlyphs">KARPAS-299R</text>
<rect x="321.60" y="383.00" width="7.40" height="7.70" fill="#2c4a7c"/>
<rect x="321.60" y="395.90" width="7.40" height="7.80" fill="#a60028"/>
<text x="331.90" y="390.00" font-size="9" text-anchor="start" font-weight="normal" fill="#231f20" stroke="#231f20" stroke-width="0.12" textLength="25.50" lengthAdjust="spacingAndGlyphs">HuT-78</text>
<text x="331.90" y="403.00" font-size="9" text-anchor="start" font-weight="normal" fill="#231f20" stroke="#231f20" stroke-width="0.12" textLength="31.50" lengthAdjust="spacingAndGlyphs">HuT-78R</text>
<rect x="0" y="0" width="520" height="1" fill="#1c1c1c"/><rect x="0" y="0" width="1" height="524" fill="#1c1c1c"/><rect x="519" y="0" width="1" height="524" fill="#1c1c1c"/><rect x="0" y="523" width="520" height="1" fill="#1c1c1c"/>
</svg></body></html>
